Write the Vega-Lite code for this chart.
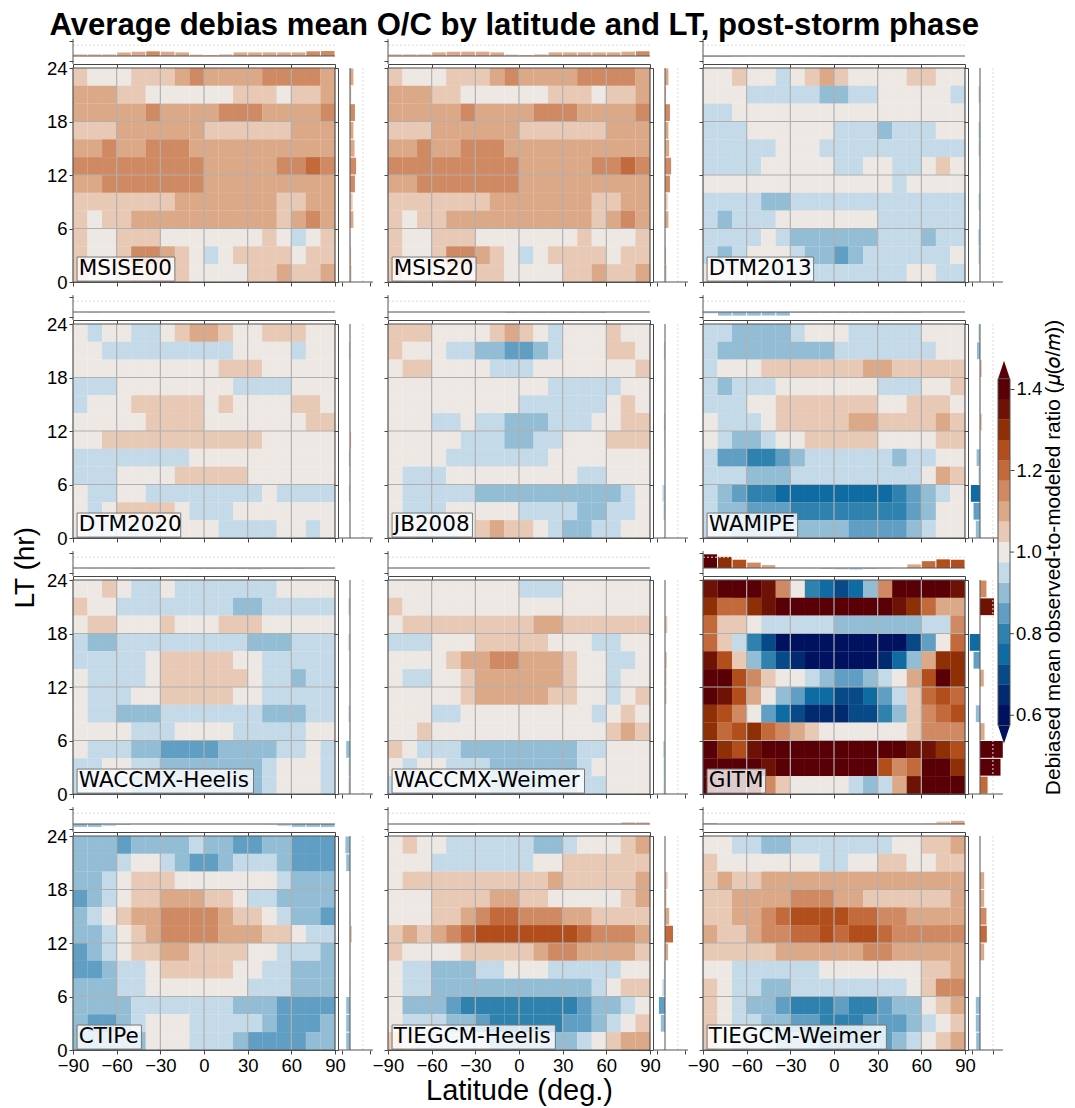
{"$schema":"https://vega.github.io/schema/vega-lite/v6.json","padding":{"left":12,"top":9,"right":0,"bottom":0},"title":{"text":"Average debias mean O/C by latitude and LT, post-storm phase","font":"Liberation Sans","fontWeight":"bold","fontSize":31.1,"anchor":"start","offset":-11,"dx":37},
"config":{"legend":{"disable":true},"view":{"stroke":null},"axis":{"grid":false,"labelOverlap":false,"labelFlush":false,"domainColor":"#444","tickColor":"#444","tickSize":4,"labelFont":"Liberation Sans","labelFontSize":18.5,"labelColor":"#000","titleFont":"Liberation Sans","titleFontSize":29,"titleFontWeight":"normal","titleColor":"#000"},"text":{"align":"left","font":"DejaVu Sans","fontSize":21.5,"color":"#000"},"rule":{"color":"#555"}},
"datasets":{"one":[{"o":1}],"gx":[{"x":-60},{"x":-30},{"x":0},{"x":30},{"x":60}],"gy":[{"y":6},{"y":12},{"y":18}],"cbt":[{"v":0.6},{"v":0.8},{"v":1}],"cb":[{"v":0.6},{"v":0.65},{"v":0.7},{"v":0.75},{"v":0.8},{"v":0.85},{"v":0.9},{"v":0.95},{"v":1},{"v":1.05},{"v":1.1},{"v":1.15},{"v":1.2},{"v":1.25},{"v":1.3},{"v":1.35},{"v":1.4}],
"t0":[{"x":-85,"v":1.05},{"x":-75,"v":1.05},{"x":-65,"v":1.05},{"x":-55,"v":1.1},{"x":-45,"v":1.12},{"x":-35,"v":1.13},{"x":-25,"v":1.12},{"x":-15,"v":1.1},{"x":-5,"v":1.04},{"x":5,"v":1.03},{"x":15,"v":1.05},{"x":25,"v":1.1},{"x":35,"v":1.1},{"x":45,"v":1.1},{"x":55,"v":1.1},{"x":65,"v":1.1},{"x":75,"v":1.13},{"x":85,"v":1.14}],
"t1":[{"x":-85,"v":1.05},{"x":-75,"v":1.05},{"x":-65,"v":1.05},{"x":-55,"v":1.1},{"x":-45,"v":1.12},{"x":-35,"v":1.12},{"x":-25,"v":1.12},{"x":-15,"v":1.1},{"x":-5,"v":1.04},{"x":5,"v":1.03},{"x":15,"v":1.05},{"x":25,"v":1.1},{"x":35,"v":1.1},{"x":45,"v":1.1},{"x":55,"v":1.1},{"x":65,"v":1.1},{"x":75,"v":1.12},{"x":85,"v":1.13}],
"t2":[{"x":-85,"v":0.97},{"x":-75,"v":0.97},{"x":-65,"v":0.98},{"x":-55,"v":1},{"x":-45,"v":0.99},{"x":-35,"v":0.99},{"x":-25,"v":0.98},{"x":-15,"v":0.98},{"x":-5,"v":0.97},{"x":5,"v":0.97},{"x":15,"v":0.97},{"x":25,"v":0.97},{"x":35,"v":0.97},{"x":45,"v":0.97},{"x":55,"v":0.97},{"x":65,"v":0.98},{"x":75,"v":1},{"x":85,"v":1}],
"t3":[{"x":-85,"v":1},{"x":-75,"v":0.98},{"x":-65,"v":1},{"x":-55,"v":1},{"x":-45,"v":1},{"x":-35,"v":1},{"x":-25,"v":1},{"x":-15,"v":1},{"x":-5,"v":1},{"x":5,"v":1},{"x":15,"v":1},{"x":25,"v":1},{"x":35,"v":1},{"x":45,"v":1},{"x":55,"v":1},{"x":65,"v":1},{"x":75,"v":1},{"x":85,"v":1}],
"t4":[{"x":-85,"v":1},{"x":-75,"v":1},{"x":-65,"v":1},{"x":-55,"v":1},{"x":-45,"v":1},{"x":-35,"v":1},{"x":-25,"v":1},{"x":-15,"v":0.99},{"x":-5,"v":0.97},{"x":5,"v":0.97},{"x":15,"v":0.97},{"x":25,"v":0.97},{"x":35,"v":0.97},{"x":45,"v":0.97},{"x":55,"v":0.97},{"x":65,"v":1},{"x":75,"v":1},{"x":85,"v":1}],
"t5":[{"x":-85,"v":0.96},{"x":-75,"v":0.9},{"x":-65,"v":0.9},{"x":-55,"v":0.9},{"x":-45,"v":0.9},{"x":-35,"v":0.9},{"x":-25,"v":0.97},{"x":-15,"v":0.97},{"x":-5,"v":0.97},{"x":5,"v":0.97},{"x":15,"v":0.97},{"x":25,"v":0.97},{"x":35,"v":0.97},{"x":45,"v":0.97},{"x":55,"v":0.97},{"x":65,"v":1},{"x":75,"v":1},{"x":85,"v":1}],
"t6":[{"x":-85,"v":1},{"x":-75,"v":0.98},{"x":-65,"v":0.98},{"x":-55,"v":0.98},{"x":-45,"v":0.97},{"x":-35,"v":0.97},{"x":-25,"v":0.98},{"x":-15,"v":0.98},{"x":-5,"v":0.97},{"x":5,"v":0.97},{"x":15,"v":0.97},{"x":25,"v":0.97},{"x":35,"v":0.96},{"x":45,"v":0.97},{"x":55,"v":0.97},{"x":65,"v":0.97},{"x":75,"v":0.98},{"x":85,"v":0.98}],
"t7":[{"x":-85,"v":1},{"x":-75,"v":1},{"x":-65,"v":1},{"x":-55,"v":1},{"x":-45,"v":1},{"x":-35,"v":1},{"x":-25,"v":1},{"x":-15,"v":1},{"x":-5,"v":1},{"x":5,"v":1},{"x":15,"v":1},{"x":25,"v":1},{"x":35,"v":1},{"x":45,"v":1},{"x":55,"v":1},{"x":65,"v":1},{"x":75,"v":1},{"x":85,"v":1}],
"t8":[{"x":-85,"v":1.38},{"x":-75,"v":1.31},{"x":-65,"v":1.23},{"x":-55,"v":1.15},{"x":-45,"v":1.08},{"x":-35,"v":1.01},{"x":-25,"v":1},{"x":-15,"v":0.99},{"x":-5,"v":0.97},{"x":5,"v":0.96},{"x":15,"v":0.95},{"x":25,"v":0.97},{"x":35,"v":0.98},{"x":45,"v":1},{"x":55,"v":1.1},{"x":65,"v":1.19},{"x":75,"v":1.24},{"x":85,"v":1.23}],
"t9":[{"x":-85,"v":0.92},{"x":-75,"v":0.92},{"x":-65,"v":0.94},{"x":-55,"v":0.97},{"x":-45,"v":1},{"x":-35,"v":1},{"x":-25,"v":1.01},{"x":-15,"v":1.01},{"x":-5,"v":1.01},{"x":5,"v":1},{"x":15,"v":1},{"x":25,"v":1},{"x":35,"v":0.99},{"x":45,"v":0.98},{"x":55,"v":0.94},{"x":65,"v":0.92},{"x":75,"v":0.92},{"x":85,"v":0.92}],
"t10":[{"x":-85,"v":1},{"x":-75,"v":1},{"x":-65,"v":1},{"x":-55,"v":0.99},{"x":-45,"v":0.98},{"x":-35,"v":0.98},{"x":-25,"v":1},{"x":-15,"v":1},{"x":-5,"v":1},{"x":5,"v":1},{"x":15,"v":1},{"x":25,"v":1},{"x":35,"v":1},{"x":45,"v":1},{"x":55,"v":1},{"x":65,"v":1.01},{"x":75,"v":1.05},{"x":85,"v":1.05}],
"t11":[{"x":-85,"v":1.03},{"x":-75,"v":1},{"x":-65,"v":1},{"x":-55,"v":1},{"x":-45,"v":1},{"x":-35,"v":1},{"x":-25,"v":1},{"x":-15,"v":1},{"x":-5,"v":1},{"x":5,"v":1},{"x":15,"v":1},{"x":25,"v":1},{"x":35,"v":1},{"x":45,"v":1},{"x":55,"v":1},{"x":65,"v":1.02},{"x":75,"v":1.07},{"x":85,"v":1.09}],
"r0":[{"y":23,"v":1.09},{"y":21,"v":1.03},{"y":19,"v":1.13},{"y":17,"v":1.09},{"y":15,"v":1.12},{"y":13,"v":1.16},{"y":11,"v":1.13},{"y":9,"v":1.07},{"y":7,"v":1.09},{"y":5,"v":1.02},{"y":3,"v":1.03},{"y":1,"v":1.04}],
"r1":[{"y":23,"v":1.09},{"y":21,"v":1.03},{"y":19,"v":1.13},{"y":17,"v":1.09},{"y":15,"v":1.11},{"y":13,"v":1.16},{"y":11,"v":1.13},{"y":9,"v":1.07},{"y":7,"v":1.09},{"y":5,"v":1.02},{"y":3,"v":1.03},{"y":1,"v":1.04}],
"r2":[{"y":23,"v":1},{"y":21,"v":0.96},{"y":19,"v":1},{"y":17,"v":0.96},{"y":15,"v":0.96},{"y":13,"v":0.99},{"y":11,"v":1},{"y":9,"v":0.96},{"y":7,"v":0.98},{"y":5,"v":0.95},{"y":3,"v":0.96},{"y":1,"v":0.99}],
"r3":[{"y":23,"v":1},{"y":21,"v":0.97},{"y":19,"v":1},{"y":17,"v":1},{"y":15,"v":1},{"y":13,"v":1},{"y":11,"v":1.03},{"y":9,"v":0.97},{"y":7,"v":1},{"y":5,"v":0.97},{"y":3,"v":1},{"y":1,"v":0.98}],
"r4":[{"y":23,"v":1},{"y":21,"v":0.97},{"y":19,"v":1},{"y":17,"v":0.99},{"y":15,"v":0.99},{"y":13,"v":0.97},{"y":11,"v":0.98},{"y":9,"v":0.99},{"y":7,"v":0.99},{"y":5,"v":0.93},{"y":3,"v":0.96},{"y":1,"v":1}],
"r5":[{"y":23,"v":0.955},{"y":21,"v":0.92},{"y":19,"v":1.05},{"y":17,"v":1},{"y":15,"v":0.99},{"y":13,"v":1.05},{"y":11,"v":1},{"y":9,"v":0.91},{"y":7,"v":0.955},{"y":5,"v":0.76},{"y":3,"v":0.83},{"y":1,"v":0.89}],
"r6":[{"y":23,"v":1},{"y":21,"v":0.96},{"y":19,"v":1},{"y":17,"v":0.96},{"y":15,"v":0.99},{"y":13,"v":0.99},{"y":11,"v":1},{"y":9,"v":0.96},{"y":7,"v":0.99},{"y":5,"v":0.9},{"y":3,"v":0.96},{"y":1,"v":0.96}],
"r7":[{"y":23,"v":1},{"y":21,"v":1},{"y":19,"v":1.06},{"y":17,"v":1},{"y":15,"v":1.05},{"y":13,"v":1.04},{"y":11,"v":1.04},{"y":9,"v":1},{"y":7,"v":1},{"y":5,"v":0.95},{"y":3,"v":0.96},{"y":1,"v":0.96}],
"r8":[{"y":23,"v":1.17},{"y":21,"v":1.37},{"y":19,"v":0.99},{"y":17,"v":0.73},{"y":15,"v":0.83},{"y":13,"v":1.1},{"y":11,"v":1},{"y":9,"v":0.89},{"y":7,"v":1.12},{"y":5,"v":1.6},{"y":3,"v":1.54},{"y":1,"v":1.2}],
"r9":[{"y":23,"v":0.88},{"y":21,"v":0.9},{"y":19,"v":1},{"y":17,"v":1},{"y":15,"v":0.99},{"y":13,"v":1.05},{"y":11,"v":0.99},{"y":9,"v":1},{"y":7,"v":0.98},{"y":5,"v":0.9},{"y":3,"v":0.9},{"y":1,"v":0.9}],
"r10":[{"y":23,"v":1},{"y":21,"v":1},{"y":19,"v":1.07},{"y":17,"v":1.04},{"y":15,"v":1.11},{"y":13,"v":1.21},{"y":11,"v":1.08},{"y":9,"v":0.97},{"y":7,"v":0.93},{"y":5,"v":0.84},{"y":3,"v":0.89},{"y":1,"v":1}],
"r11":[{"y":23,"v":1},{"y":21,"v":1},{"y":19,"v":1.11},{"y":17,"v":1.11},{"y":15,"v":1.17},{"y":13,"v":1.18},{"y":11,"v":1.11},{"y":9,"v":1},{"y":7,"v":1},{"y":5,"v":0.89},{"y":3,"v":0.89},{"y":1,"v":0.9}],
"c0":[{"x":-85,"y":23,"v":1.05},{"x":-75,"y":23,"v":1},{"x":-65,"y":23,"v":1},{"x":-55,"y":23,"v":1},{"x":-45,"y":23,"v":1.05},{"x":-35,"y":23,"v":1.05},{"x":-25,"y":23,"v":1.05},{"x":-15,"y":23,"v":1.1},{"x":-5,"y":23,"v":1.15},{"x":5,"y":23,"v":1.1},{"x":15,"y":23,"v":1.1},{"x":25,"y":23,"v":1.1},{"x":35,"y":23,"v":1.1},{"x":45,"y":23,"v":1.15},{"x":55,"y":23,"v":1.15},{"x":65,"y":23,"v":1.15},{"x":75,"y":23,"v":1.15},{"x":85,"y":23,"v":1.1},
{"x":-85,"y":21,"v":1.1},{"x":-75,"y":21,"v":1.1},{"x":-65,"y":21,"v":1.1},{"x":-55,"y":21,"v":1.05},{"x":-45,"y":21,"v":1.05},{"x":-35,"y":21,"v":1},{"x":-25,"y":21,"v":1},{"x":-15,"y":21,"v":1},{"x":-5,"y":21,"v":1},{"x":5,"y":21,"v":1},{"x":15,"y":21,"v":1},{"x":25,"y":21,"v":1.05},{"x":35,"y":21,"v":1.05},{"x":45,"y":21,"v":1.05},{"x":55,"y":21,"v":1},{"x":65,"y":21,"v":1.05},{"x":75,"y":21,"v":1.05},{"x":85,"y":21,"v":1.1},
{"x":-85,"y":19,"v":1.1},{"x":-75,"y":19,"v":1.1},{"x":-65,"y":19,"v":1.1},{"x":-55,"y":19,"v":1.1},{"x":-45,"y":19,"v":1.1},{"x":-35,"y":19,"v":1.15},{"x":-25,"y":19,"v":1.1},{"x":-15,"y":19,"v":1.1},{"x":-5,"y":19,"v":1.1},{"x":5,"y":19,"v":1.1},{"x":15,"y":19,"v":1.15},{"x":25,"y":19,"v":1.15},{"x":35,"y":19,"v":1.15},{"x":45,"y":19,"v":1.1},{"x":55,"y":19,"v":1.1},{"x":65,"y":19,"v":1.1},{"x":75,"y":19,"v":1.1},{"x":85,"y":19,"v":1.15},
{"x":-85,"y":17,"v":1.05},{"x":-75,"y":17,"v":1.05},{"x":-65,"y":17,"v":1.05},{"x":-55,"y":17,"v":1.1},{"x":-45,"y":17,"v":1.1},{"x":-35,"y":17,"v":1.1},{"x":-25,"y":17,"v":1.1},{"x":-15,"y":17,"v":1.1},{"x":-5,"y":17,"v":1.1},{"x":5,"y":17,"v":1.05},{"x":15,"y":17,"v":1.05},{"x":25,"y":17,"v":1.05},{"x":35,"y":17,"v":1.05},{"x":45,"y":17,"v":1.05},{"x":55,"y":17,"v":1.05},{"x":65,"y":17,"v":1.1},{"x":75,"y":17,"v":1.1},{"x":85,"y":17,"v":1.1},
{"x":-85,"y":15,"v":1.1},{"x":-75,"y":15,"v":1.1},{"x":-65,"y":15,"v":1.15},{"x":-55,"y":15,"v":1.1},{"x":-45,"y":15,"v":1.1},{"x":-35,"y":15,"v":1.15},{"x":-25,"y":15,"v":1.15},{"x":-15,"y":15,"v":1.15},{"x":-5,"y":15,"v":1.1},{"x":5,"y":15,"v":1.1},{"x":15,"y":15,"v":1.1},{"x":25,"y":15,"v":1.1},{"x":35,"y":15,"v":1.1},{"x":45,"y":15,"v":1.1},{"x":55,"y":15,"v":1.1},{"x":65,"y":15,"v":1.1},{"x":75,"y":15,"v":1.1},{"x":85,"y":15,"v":1.1},
{"x":-85,"y":13,"v":1.15},{"x":-75,"y":13,"v":1.15},{"x":-65,"y":13,"v":1.15},{"x":-55,"y":13,"v":1.15},{"x":-45,"y":13,"v":1.15},{"x":-35,"y":13,"v":1.15},{"x":-25,"y":13,"v":1.15},{"x":-15,"y":13,"v":1.15},{"x":-5,"y":13,"v":1.15},{"x":5,"y":13,"v":1.1},{"x":15,"y":13,"v":1.1},{"x":25,"y":13,"v":1.1},{"x":35,"y":13,"v":1.1},{"x":45,"y":13,"v":1.1},{"x":55,"y":13,"v":1.15},{"x":65,"y":13,"v":1.15},{"x":75,"y":13,"v":1.2},{"x":85,"y":13,"v":1.15},
{"x":-85,"y":11,"v":1.1},{"x":-75,"y":11,"v":1.1},{"x":-65,"y":11,"v":1.15},{"x":-55,"y":11,"v":1.15},{"x":-45,"y":11,"v":1.15},{"x":-35,"y":11,"v":1.15},{"x":-25,"y":11,"v":1.15},{"x":-15,"y":11,"v":1.15},{"x":-5,"y":11,"v":1.15},{"x":5,"y":11,"v":1.1},{"x":15,"y":11,"v":1.1},{"x":25,"y":11,"v":1.1},{"x":35,"y":11,"v":1.1},{"x":45,"y":11,"v":1.1},{"x":55,"y":11,"v":1.1},{"x":65,"y":11,"v":1.1},{"x":75,"y":11,"v":1.1},{"x":85,"y":11,"v":1.1},
{"x":-85,"y":9,"v":1.05},{"x":-75,"y":9,"v":1.05},{"x":-65,"y":9,"v":1.05},{"x":-55,"y":9,"v":1.05},{"x":-45,"y":9,"v":1.05},{"x":-35,"y":9,"v":1.05},{"x":-25,"y":9,"v":1.05},{"x":-15,"y":9,"v":1.1},{"x":-5,"y":9,"v":1.1},{"x":5,"y":9,"v":1.1},{"x":15,"y":9,"v":1.1},{"x":25,"y":9,"v":1.1},{"x":35,"y":9,"v":1.1},{"x":45,"y":9,"v":1.1},{"x":55,"y":9,"v":1.05},{"x":65,"y":9,"v":1.05},{"x":75,"y":9,"v":1.1},{"x":85,"y":9,"v":1.1},
{"x":-85,"y":7,"v":1.05},{"x":-75,"y":7,"v":1},{"x":-65,"y":7,"v":1.05},{"x":-55,"y":7,"v":1.05},{"x":-45,"y":7,"v":1.1},{"x":-35,"y":7,"v":1.1},{"x":-25,"y":7,"v":1.1},{"x":-15,"y":7,"v":1.1},{"x":-5,"y":7,"v":1.1},{"x":5,"y":7,"v":1.1},{"x":15,"y":7,"v":1.1},{"x":25,"y":7,"v":1.1},{"x":35,"y":7,"v":1.1},{"x":45,"y":7,"v":1.1},{"x":55,"y":7,"v":1.05},{"x":65,"y":7,"v":1.1},{"x":75,"y":7,"v":1.15},{"x":85,"y":7,"v":1.1},
{"x":-85,"y":5,"v":1.05},{"x":-75,"y":5,"v":1},{"x":-65,"y":5,"v":1},{"x":-55,"y":5,"v":1.05},{"x":-45,"y":5,"v":1.05},{"x":-35,"y":5,"v":1.05},{"x":-25,"y":5,"v":1},{"x":-15,"y":5,"v":1},{"x":-5,"y":5,"v":1},{"x":5,"y":5,"v":1},{"x":15,"y":5,"v":1},{"x":25,"y":5,"v":1},{"x":35,"y":5,"v":1},{"x":45,"y":5,"v":1.05},{"x":55,"y":5,"v":1},{"x":65,"y":5,"v":0.95},{"x":75,"y":5,"v":1},{"x":85,"y":5,"v":1.05},
{"x":-85,"y":3,"v":1.05},{"x":-75,"y":3,"v":1},{"x":-65,"y":3,"v":1},{"x":-55,"y":3,"v":1.05},{"x":-45,"y":3,"v":1.15},{"x":-35,"y":3,"v":1.15},{"x":-25,"y":3,"v":1.1},{"x":-15,"y":3,"v":1.05},{"x":-5,"y":3,"v":1},{"x":5,"y":3,"v":0.95},{"x":15,"y":3,"v":1},{"x":25,"y":3,"v":1.05},{"x":35,"y":3,"v":1.05},{"x":45,"y":3,"v":1.05},{"x":55,"y":3,"v":1.05},{"x":65,"y":3,"v":1},{"x":75,"y":3,"v":1.05},{"x":85,"y":3,"v":1.05},
{"x":-85,"y":1,"v":1.05},{"x":-75,"y":1,"v":1},{"x":-65,"y":1,"v":1},{"x":-55,"y":1,"v":1},{"x":-45,"y":1,"v":1.05},{"x":-35,"y":1,"v":1.05},{"x":-25,"y":1,"v":1.05},{"x":-15,"y":1,"v":1.05},{"x":-5,"y":1,"v":1},{"x":5,"y":1,"v":1},{"x":15,"y":1,"v":1},{"x":25,"y":1,"v":1},{"x":35,"y":1,"v":1.05},{"x":45,"y":1,"v":1.05},{"x":55,"y":1,"v":1.1},{"x":65,"y":1,"v":1.05},{"x":75,"y":1,"v":1.05},{"x":85,"y":1,"v":1.1}],
"c1":[{"x":-85,"y":23,"v":1.05},{"x":-75,"y":23,"v":1},{"x":-65,"y":23,"v":1},{"x":-55,"y":23,"v":1},{"x":-45,"y":23,"v":1.05},{"x":-35,"y":23,"v":1.05},{"x":-25,"y":23,"v":1.05},{"x":-15,"y":23,"v":1.1},{"x":-5,"y":23,"v":1.15},{"x":5,"y":23,"v":1.1},{"x":15,"y":23,"v":1.1},{"x":25,"y":23,"v":1.1},{"x":35,"y":23,"v":1.1},{"x":45,"y":23,"v":1.15},{"x":55,"y":23,"v":1.15},{"x":65,"y":23,"v":1.15},{"x":75,"y":23,"v":1.15},{"x":85,"y":23,"v":1.1},
{"x":-85,"y":21,"v":1.1},{"x":-75,"y":21,"v":1.1},{"x":-65,"y":21,"v":1.1},{"x":-55,"y":21,"v":1.05},{"x":-45,"y":21,"v":1.05},{"x":-35,"y":21,"v":1},{"x":-25,"y":21,"v":1},{"x":-15,"y":21,"v":1},{"x":-5,"y":21,"v":1},{"x":5,"y":21,"v":1},{"x":15,"y":21,"v":1},{"x":25,"y":21,"v":1.05},{"x":35,"y":21,"v":1.05},{"x":45,"y":21,"v":1.05},{"x":55,"y":21,"v":1},{"x":65,"y":21,"v":1.05},{"x":75,"y":21,"v":1.05},{"x":85,"y":21,"v":1.1},
{"x":-85,"y":19,"v":1.1},{"x":-75,"y":19,"v":1.1},{"x":-65,"y":19,"v":1.1},{"x":-55,"y":19,"v":1.1},{"x":-45,"y":19,"v":1.1},{"x":-35,"y":19,"v":1.15},{"x":-25,"y":19,"v":1.1},{"x":-15,"y":19,"v":1.1},{"x":-5,"y":19,"v":1.1},{"x":5,"y":19,"v":1.1},{"x":15,"y":19,"v":1.15},{"x":25,"y":19,"v":1.15},{"x":35,"y":19,"v":1.15},{"x":45,"y":19,"v":1.1},{"x":55,"y":19,"v":1.1},{"x":65,"y":19,"v":1.1},{"x":75,"y":19,"v":1.1},{"x":85,"y":19,"v":1.15},
{"x":-85,"y":17,"v":1.05},{"x":-75,"y":17,"v":1.05},{"x":-65,"y":17,"v":1.05},{"x":-55,"y":17,"v":1.1},{"x":-45,"y":17,"v":1.1},{"x":-35,"y":17,"v":1.1},{"x":-25,"y":17,"v":1.1},{"x":-15,"y":17,"v":1.1},{"x":-5,"y":17,"v":1.1},{"x":5,"y":17,"v":1.05},{"x":15,"y":17,"v":1.05},{"x":25,"y":17,"v":1.05},{"x":35,"y":17,"v":1.05},{"x":45,"y":17,"v":1.05},{"x":55,"y":17,"v":1.05},{"x":65,"y":17,"v":1.1},{"x":75,"y":17,"v":1.1},{"x":85,"y":17,"v":1.1},
{"x":-85,"y":15,"v":1.1},{"x":-75,"y":15,"v":1.1},{"x":-65,"y":15,"v":1.15},{"x":-55,"y":15,"v":1.1},{"x":-45,"y":15,"v":1.1},{"x":-35,"y":15,"v":1.15},{"x":-25,"y":15,"v":1.15},{"x":-15,"y":15,"v":1.15},{"x":-5,"y":15,"v":1.1},{"x":5,"y":15,"v":1.1},{"x":15,"y":15,"v":1.1},{"x":25,"y":15,"v":1.1},{"x":35,"y":15,"v":1.1},{"x":45,"y":15,"v":1.1},{"x":55,"y":15,"v":1.1},{"x":65,"y":15,"v":1.1},{"x":75,"y":15,"v":1.1},{"x":85,"y":15,"v":1.1},
{"x":-85,"y":13,"v":1.15},{"x":-75,"y":13,"v":1.15},{"x":-65,"y":13,"v":1.15},{"x":-55,"y":13,"v":1.15},{"x":-45,"y":13,"v":1.15},{"x":-35,"y":13,"v":1.15},{"x":-25,"y":13,"v":1.15},{"x":-15,"y":13,"v":1.15},{"x":-5,"y":13,"v":1.15},{"x":5,"y":13,"v":1.1},{"x":15,"y":13,"v":1.1},{"x":25,"y":13,"v":1.1},{"x":35,"y":13,"v":1.1},{"x":45,"y":13,"v":1.1},{"x":55,"y":13,"v":1.15},{"x":65,"y":13,"v":1.15},{"x":75,"y":13,"v":1.2},{"x":85,"y":13,"v":1.15},
{"x":-85,"y":11,"v":1.1},{"x":-75,"y":11,"v":1.1},{"x":-65,"y":11,"v":1.15},{"x":-55,"y":11,"v":1.15},{"x":-45,"y":11,"v":1.15},{"x":-35,"y":11,"v":1.15},{"x":-25,"y":11,"v":1.15},{"x":-15,"y":11,"v":1.15},{"x":-5,"y":11,"v":1.15},{"x":5,"y":11,"v":1.1},{"x":15,"y":11,"v":1.1},{"x":25,"y":11,"v":1.1},{"x":35,"y":11,"v":1.1},{"x":45,"y":11,"v":1.1},{"x":55,"y":11,"v":1.1},{"x":65,"y":11,"v":1.1},{"x":75,"y":11,"v":1.1},{"x":85,"y":11,"v":1.1},
{"x":-85,"y":9,"v":1.05},{"x":-75,"y":9,"v":1.05},{"x":-65,"y":9,"v":1.05},{"x":-55,"y":9,"v":1.05},{"x":-45,"y":9,"v":1.05},{"x":-35,"y":9,"v":1.05},{"x":-25,"y":9,"v":1.05},{"x":-15,"y":9,"v":1.1},{"x":-5,"y":9,"v":1.1},{"x":5,"y":9,"v":1.1},{"x":15,"y":9,"v":1.1},{"x":25,"y":9,"v":1.1},{"x":35,"y":9,"v":1.1},{"x":45,"y":9,"v":1.1},{"x":55,"y":9,"v":1.05},{"x":65,"y":9,"v":1.05},{"x":75,"y":9,"v":1.1},{"x":85,"y":9,"v":1.1},
{"x":-85,"y":7,"v":1.05},{"x":-75,"y":7,"v":1},{"x":-65,"y":7,"v":1.05},{"x":-55,"y":7,"v":1.05},{"x":-45,"y":7,"v":1.1},{"x":-35,"y":7,"v":1.1},{"x":-25,"y":7,"v":1.1},{"x":-15,"y":7,"v":1.1},{"x":-5,"y":7,"v":1.1},{"x":5,"y":7,"v":1.1},{"x":15,"y":7,"v":1.1},{"x":25,"y":7,"v":1.1},{"x":35,"y":7,"v":1.1},{"x":45,"y":7,"v":1.1},{"x":55,"y":7,"v":1.05},{"x":65,"y":7,"v":1.1},{"x":75,"y":7,"v":1.15},{"x":85,"y":7,"v":1.1},
{"x":-85,"y":5,"v":1.05},{"x":-75,"y":5,"v":1},{"x":-65,"y":5,"v":1},{"x":-55,"y":5,"v":1.05},{"x":-45,"y":5,"v":1.05},{"x":-35,"y":5,"v":1.05},{"x":-25,"y":5,"v":1},{"x":-15,"y":5,"v":1},{"x":-5,"y":5,"v":1},{"x":5,"y":5,"v":1},{"x":15,"y":5,"v":1},{"x":25,"y":5,"v":1},{"x":35,"y":5,"v":1},{"x":45,"y":5,"v":1.05},{"x":55,"y":5,"v":1},{"x":65,"y":5,"v":1},{"x":75,"y":5,"v":1},{"x":85,"y":5,"v":1.05},
{"x":-85,"y":3,"v":1.05},{"x":-75,"y":3,"v":1},{"x":-65,"y":3,"v":1},{"x":-55,"y":3,"v":1.05},{"x":-45,"y":3,"v":1.15},{"x":-35,"y":3,"v":1.15},{"x":-25,"y":3,"v":1.1},{"x":-15,"y":3,"v":1.05},{"x":-5,"y":3,"v":1},{"x":5,"y":3,"v":0.95},{"x":15,"y":3,"v":1},{"x":25,"y":3,"v":1.05},{"x":35,"y":3,"v":1.05},{"x":45,"y":3,"v":1.05},{"x":55,"y":3,"v":1.05},{"x":65,"y":3,"v":1},{"x":75,"y":3,"v":1.05},{"x":85,"y":3,"v":1.05},
{"x":-85,"y":1,"v":1.05},{"x":-75,"y":1,"v":1},{"x":-65,"y":1,"v":1},{"x":-55,"y":1,"v":1},{"x":-45,"y":1,"v":1.05},{"x":-35,"y":1,"v":1.05},{"x":-25,"y":1,"v":1.05},{"x":-15,"y":1,"v":1.05},{"x":-5,"y":1,"v":1},{"x":5,"y":1,"v":1},{"x":15,"y":1,"v":1},{"x":25,"y":1,"v":1},{"x":35,"y":1,"v":1.05},{"x":45,"y":1,"v":1.05},{"x":55,"y":1,"v":1.1},{"x":65,"y":1,"v":1.05},{"x":75,"y":1,"v":1.05},{"x":85,"y":1,"v":1.1}],
"c2":[{"x":-85,"y":23,"v":1},{"x":-75,"y":23,"v":1},{"x":-65,"y":23,"v":1.05},{"x":-55,"y":23,"v":1},{"x":-45,"y":23,"v":1},{"x":-35,"y":23,"v":0.95},{"x":-25,"y":23,"v":1},{"x":-15,"y":23,"v":1.05},{"x":-5,"y":23,"v":1.1},{"x":5,"y":23,"v":1.05},{"x":15,"y":23,"v":1},{"x":25,"y":23,"v":1},{"x":35,"y":23,"v":1},{"x":45,"y":23,"v":1},{"x":55,"y":23,"v":1.05},{"x":65,"y":23,"v":1.05},{"x":75,"y":23,"v":1},{"x":85,"y":23,"v":1},
{"x":-85,"y":21,"v":1},{"x":-75,"y":21,"v":1},{"x":-65,"y":21,"v":1},{"x":-55,"y":21,"v":0.95},{"x":-45,"y":21,"v":0.95},{"x":-35,"y":21,"v":0.95},{"x":-25,"y":21,"v":0.95},{"x":-15,"y":21,"v":0.95},{"x":-5,"y":21,"v":0.9},{"x":5,"y":21,"v":0.9},{"x":15,"y":21,"v":0.95},{"x":25,"y":21,"v":0.95},{"x":35,"y":21,"v":1},{"x":45,"y":21,"v":1},{"x":55,"y":21,"v":1},{"x":65,"y":21,"v":1},{"x":75,"y":21,"v":1},{"x":85,"y":21,"v":0.95},
{"x":-85,"y":19,"v":0.95},{"x":-75,"y":19,"v":0.95},{"x":-65,"y":19,"v":1},{"x":-55,"y":19,"v":1},{"x":-45,"y":19,"v":1},{"x":-35,"y":19,"v":1},{"x":-25,"y":19,"v":1},{"x":-15,"y":19,"v":1},{"x":-5,"y":19,"v":1},{"x":5,"y":19,"v":1},{"x":15,"y":19,"v":1},{"x":25,"y":19,"v":1},{"x":35,"y":19,"v":1},{"x":45,"y":19,"v":1},{"x":55,"y":19,"v":1},{"x":65,"y":19,"v":1},{"x":75,"y":19,"v":1},{"x":85,"y":19,"v":1},
{"x":-85,"y":17,"v":0.95},{"x":-75,"y":17,"v":0.95},{"x":-65,"y":17,"v":0.95},{"x":-55,"y":17,"v":1},{"x":-45,"y":17,"v":1},{"x":-35,"y":17,"v":1},{"x":-25,"y":17,"v":1},{"x":-15,"y":17,"v":1},{"x":-5,"y":17,"v":1},{"x":5,"y":17,"v":0.95},{"x":15,"y":17,"v":0.95},{"x":25,"y":17,"v":0.95},{"x":35,"y":17,"v":0.9},{"x":45,"y":17,"v":0.95},{"x":55,"y":17,"v":0.95},{"x":65,"y":17,"v":0.95},{"x":75,"y":17,"v":1},{"x":85,"y":17,"v":1},
{"x":-85,"y":15,"v":0.95},{"x":-75,"y":15,"v":0.95},{"x":-65,"y":15,"v":0.95},{"x":-55,"y":15,"v":0.95},{"x":-45,"y":15,"v":0.95},{"x":-35,"y":15,"v":1},{"x":-25,"y":15,"v":1},{"x":-15,"y":15,"v":1},{"x":-5,"y":15,"v":0.95},{"x":5,"y":15,"v":0.95},{"x":15,"y":15,"v":0.95},{"x":25,"y":15,"v":0.95},{"x":35,"y":15,"v":0.95},{"x":45,"y":15,"v":0.95},{"x":55,"y":15,"v":0.95},{"x":65,"y":15,"v":0.95},{"x":75,"y":15,"v":0.95},{"x":85,"y":15,"v":0.95},
{"x":-85,"y":13,"v":0.95},{"x":-75,"y":13,"v":0.95},{"x":-65,"y":13,"v":0.95},{"x":-55,"y":13,"v":0.95},{"x":-45,"y":13,"v":1},{"x":-35,"y":13,"v":1},{"x":-25,"y":13,"v":1},{"x":-15,"y":13,"v":1},{"x":-5,"y":13,"v":1},{"x":5,"y":13,"v":0.95},{"x":15,"y":13,"v":0.95},{"x":25,"y":13,"v":1},{"x":35,"y":13,"v":1},{"x":45,"y":13,"v":0.95},{"x":55,"y":13,"v":0.95},{"x":65,"y":13,"v":1},{"x":75,"y":13,"v":1.05},{"x":85,"y":13,"v":1},
{"x":-85,"y":11,"v":1},{"x":-75,"y":11,"v":1},{"x":-65,"y":11,"v":1},{"x":-55,"y":11,"v":1},{"x":-45,"y":11,"v":1},{"x":-35,"y":11,"v":1},{"x":-25,"y":11,"v":1},{"x":-15,"y":11,"v":1},{"x":-5,"y":11,"v":1},{"x":5,"y":11,"v":1},{"x":15,"y":11,"v":1},{"x":25,"y":11,"v":1},{"x":35,"y":11,"v":1},{"x":45,"y":11,"v":0.95},{"x":55,"y":11,"v":1},{"x":65,"y":11,"v":1},{"x":75,"y":11,"v":1},{"x":85,"y":11,"v":1},
{"x":-85,"y":9,"v":0.95},{"x":-75,"y":9,"v":0.95},{"x":-65,"y":9,"v":0.95},{"x":-55,"y":9,"v":0.95},{"x":-45,"y":9,"v":0.9},{"x":-35,"y":9,"v":0.9},{"x":-25,"y":9,"v":0.95},{"x":-15,"y":9,"v":0.95},{"x":-5,"y":9,"v":0.95},{"x":5,"y":9,"v":0.95},{"x":15,"y":9,"v":0.95},{"x":25,"y":9,"v":0.95},{"x":35,"y":9,"v":0.95},{"x":45,"y":9,"v":0.95},{"x":55,"y":9,"v":0.95},{"x":65,"y":9,"v":0.95},{"x":75,"y":9,"v":0.95},{"x":85,"y":9,"v":0.95},
{"x":-85,"y":7,"v":0.95},{"x":-75,"y":7,"v":0.9},{"x":-65,"y":7,"v":0.95},{"x":-55,"y":7,"v":0.95},{"x":-45,"y":7,"v":0.95},{"x":-35,"y":7,"v":1},{"x":-25,"y":7,"v":1},{"x":-15,"y":7,"v":1},{"x":-5,"y":7,"v":1},{"x":5,"y":7,"v":1},{"x":15,"y":7,"v":1},{"x":25,"y":7,"v":1},{"x":35,"y":7,"v":0.95},{"x":45,"y":7,"v":0.95},{"x":55,"y":7,"v":0.95},{"x":65,"y":7,"v":0.95},{"x":75,"y":7,"v":0.95},{"x":85,"y":7,"v":0.95},
{"x":-85,"y":5,"v":0.95},{"x":-75,"y":5,"v":0.95},{"x":-65,"y":5,"v":0.95},{"x":-55,"y":5,"v":0.95},{"x":-45,"y":5,"v":1},{"x":-35,"y":5,"v":0.95},{"x":-25,"y":5,"v":0.9},{"x":-15,"y":5,"v":0.9},{"x":-5,"y":5,"v":0.9},{"x":5,"y":5,"v":0.9},{"x":15,"y":5,"v":0.9},{"x":25,"y":5,"v":0.9},{"x":35,"y":5,"v":0.95},{"x":45,"y":5,"v":0.95},{"x":55,"y":5,"v":0.95},{"x":65,"y":5,"v":0.9},{"x":75,"y":5,"v":0.95},{"x":85,"y":5,"v":0.95},
{"x":-85,"y":3,"v":0.95},{"x":-75,"y":3,"v":0.9},{"x":-65,"y":3,"v":0.95},{"x":-55,"y":3,"v":1},{"x":-45,"y":3,"v":1},{"x":-35,"y":3,"v":1},{"x":-25,"y":3,"v":0.95},{"x":-15,"y":3,"v":0.9},{"x":-5,"y":3,"v":0.9},{"x":5,"y":3,"v":0.85},{"x":15,"y":3,"v":0.9},{"x":25,"y":3,"v":0.95},{"x":35,"y":3,"v":0.95},{"x":45,"y":3,"v":0.95},{"x":55,"y":3,"v":0.95},{"x":65,"y":3,"v":0.95},{"x":75,"y":3,"v":0.95},{"x":85,"y":3,"v":1},
{"x":-85,"y":1,"v":1},{"x":-75,"y":1,"v":1},{"x":-65,"y":1,"v":1},{"x":-55,"y":1,"v":1},{"x":-45,"y":1,"v":0.95},{"x":-35,"y":1,"v":0.95},{"x":-25,"y":1,"v":0.95},{"x":-15,"y":1,"v":0.95},{"x":-5,"y":1,"v":0.95},{"x":5,"y":1,"v":0.95},{"x":15,"y":1,"v":0.95},{"x":25,"y":1,"v":0.95},{"x":35,"y":1,"v":0.95},{"x":45,"y":1,"v":0.95},{"x":55,"y":1,"v":1},{"x":65,"y":1,"v":1},{"x":75,"y":1,"v":0.95},{"x":85,"y":1,"v":0.95}],
"c3":[{"x":-85,"y":23,"v":1},{"x":-75,"y":23,"v":0.95},{"x":-65,"y":23,"v":1},{"x":-55,"y":23,"v":1},{"x":-45,"y":23,"v":0.95},{"x":-35,"y":23,"v":0.95},{"x":-25,"y":23,"v":1},{"x":-15,"y":23,"v":1.05},{"x":-5,"y":23,"v":1.1},{"x":5,"y":23,"v":1.1},{"x":15,"y":23,"v":1.05},{"x":25,"y":23,"v":1},{"x":35,"y":23,"v":1},{"x":45,"y":23,"v":1.05},{"x":55,"y":23,"v":1.05},{"x":65,"y":23,"v":1.05},{"x":75,"y":23,"v":1},{"x":85,"y":23,"v":1},
{"x":-85,"y":21,"v":1},{"x":-75,"y":21,"v":1},{"x":-65,"y":21,"v":0.95},{"x":-55,"y":21,"v":0.95},{"x":-45,"y":21,"v":0.95},{"x":-35,"y":21,"v":0.95},{"x":-25,"y":21,"v":0.95},{"x":-15,"y":21,"v":0.95},{"x":-5,"y":21,"v":0.95},{"x":5,"y":21,"v":0.95},{"x":15,"y":21,"v":0.95},{"x":25,"y":21,"v":1},{"x":35,"y":21,"v":1},{"x":45,"y":21,"v":1},{"x":55,"y":21,"v":1},{"x":65,"y":21,"v":0.95},{"x":75,"y":21,"v":1},{"x":85,"y":21,"v":1},
{"x":-85,"y":19,"v":1},{"x":-75,"y":19,"v":1},{"x":-65,"y":19,"v":1},{"x":-55,"y":19,"v":1},{"x":-45,"y":19,"v":1},{"x":-35,"y":19,"v":1},{"x":-25,"y":19,"v":1},{"x":-15,"y":19,"v":1},{"x":-5,"y":19,"v":1},{"x":5,"y":19,"v":1},{"x":15,"y":19,"v":1.05},{"x":25,"y":19,"v":1.05},{"x":35,"y":19,"v":1.05},{"x":45,"y":19,"v":1},{"x":55,"y":19,"v":1},{"x":65,"y":19,"v":1},{"x":75,"y":19,"v":1},{"x":85,"y":19,"v":1},
{"x":-85,"y":17,"v":0.95},{"x":-75,"y":17,"v":0.95},{"x":-65,"y":17,"v":0.95},{"x":-55,"y":17,"v":1},{"x":-45,"y":17,"v":1},{"x":-35,"y":17,"v":1},{"x":-25,"y":17,"v":1},{"x":-15,"y":17,"v":1},{"x":-5,"y":17,"v":1},{"x":5,"y":17,"v":1},{"x":15,"y":17,"v":1},{"x":25,"y":17,"v":0.95},{"x":35,"y":17,"v":0.95},{"x":45,"y":17,"v":0.95},{"x":55,"y":17,"v":0.95},{"x":65,"y":17,"v":1},{"x":75,"y":17,"v":1},{"x":85,"y":17,"v":1},
{"x":-85,"y":15,"v":0.95},{"x":-75,"y":15,"v":1},{"x":-65,"y":15,"v":1},{"x":-55,"y":15,"v":1},{"x":-45,"y":15,"v":1.05},{"x":-35,"y":15,"v":1.05},{"x":-25,"y":15,"v":1.05},{"x":-15,"y":15,"v":1.05},{"x":-5,"y":15,"v":1.05},{"x":5,"y":15,"v":1},{"x":15,"y":15,"v":1.05},{"x":25,"y":15,"v":1},{"x":35,"y":15,"v":1},{"x":45,"y":15,"v":1},{"x":55,"y":15,"v":1},{"x":65,"y":15,"v":1.05},{"x":75,"y":15,"v":1.05},{"x":85,"y":15,"v":1},
{"x":-85,"y":13,"v":1},{"x":-75,"y":13,"v":1},{"x":-65,"y":13,"v":1},{"x":-55,"y":13,"v":1},{"x":-45,"y":13,"v":1},{"x":-35,"y":13,"v":1.05},{"x":-25,"y":13,"v":1.05},{"x":-15,"y":13,"v":1.05},{"x":-5,"y":13,"v":1.05},{"x":5,"y":13,"v":1},{"x":15,"y":13,"v":1},{"x":25,"y":13,"v":1},{"x":35,"y":13,"v":1},{"x":45,"y":13,"v":1},{"x":55,"y":13,"v":1},{"x":65,"y":13,"v":1},{"x":75,"y":13,"v":1.05},{"x":85,"y":13,"v":1.05},
{"x":-85,"y":11,"v":1},{"x":-75,"y":11,"v":1},{"x":-65,"y":11,"v":1.05},{"x":-55,"y":11,"v":1.05},{"x":-45,"y":11,"v":1.05},{"x":-35,"y":11,"v":1.05},{"x":-25,"y":11,"v":1.05},{"x":-15,"y":11,"v":1.05},{"x":-5,"y":11,"v":1.05},{"x":5,"y":11,"v":1.05},{"x":15,"y":11,"v":1.05},{"x":25,"y":11,"v":1.05},{"x":35,"y":11,"v":1.05},{"x":45,"y":11,"v":1},{"x":55,"y":11,"v":1},{"x":65,"y":11,"v":1},{"x":75,"y":11,"v":1},{"x":85,"y":11,"v":1},
{"x":-85,"y":9,"v":0.95},{"x":-75,"y":9,"v":0.95},{"x":-65,"y":9,"v":0.95},{"x":-55,"y":9,"v":0.95},{"x":-45,"y":9,"v":0.95},{"x":-35,"y":9,"v":0.95},{"x":-25,"y":9,"v":0.95},{"x":-15,"y":9,"v":0.95},{"x":-5,"y":9,"v":1},{"x":5,"y":9,"v":1},{"x":15,"y":9,"v":1},{"x":25,"y":9,"v":1},{"x":35,"y":9,"v":1},{"x":45,"y":9,"v":1},{"x":55,"y":9,"v":1},{"x":65,"y":9,"v":1},{"x":75,"y":9,"v":1},{"x":85,"y":9,"v":1},
{"x":-85,"y":7,"v":0.95},{"x":-75,"y":7,"v":0.95},{"x":-65,"y":7,"v":0.95},{"x":-55,"y":7,"v":1},{"x":-45,"y":7,"v":1},{"x":-35,"y":7,"v":1},{"x":-25,"y":7,"v":1},{"x":-15,"y":7,"v":1.05},{"x":-5,"y":7,"v":1.05},{"x":5,"y":7,"v":1.05},{"x":15,"y":7,"v":1.05},{"x":25,"y":7,"v":1.05},{"x":35,"y":7,"v":1},{"x":45,"y":7,"v":1},{"x":55,"y":7,"v":1},{"x":65,"y":7,"v":1},{"x":75,"y":7,"v":1},{"x":85,"y":7,"v":1},
{"x":-85,"y":5,"v":1},{"x":-75,"y":5,"v":0.95},{"x":-65,"y":5,"v":0.95},{"x":-55,"y":5,"v":1},{"x":-45,"y":5,"v":1},{"x":-35,"y":5,"v":0.95},{"x":-25,"y":5,"v":0.95},{"x":-15,"y":5,"v":0.95},{"x":-5,"y":5,"v":0.95},{"x":5,"y":5,"v":0.95},{"x":15,"y":5,"v":0.95},{"x":25,"y":5,"v":0.95},{"x":35,"y":5,"v":0.95},{"x":45,"y":5,"v":1},{"x":55,"y":5,"v":0.95},{"x":65,"y":5,"v":0.95},{"x":75,"y":5,"v":0.95},{"x":85,"y":5,"v":0.95},
{"x":-85,"y":3,"v":1},{"x":-75,"y":3,"v":0.95},{"x":-65,"y":3,"v":1},{"x":-55,"y":3,"v":1.05},{"x":-45,"y":3,"v":1.05},{"x":-35,"y":3,"v":1.05},{"x":-25,"y":3,"v":1.05},{"x":-15,"y":3,"v":1},{"x":-5,"y":3,"v":0.95},{"x":5,"y":3,"v":0.95},{"x":15,"y":3,"v":0.95},{"x":25,"y":3,"v":1},{"x":35,"y":3,"v":1},{"x":45,"y":3,"v":1},{"x":55,"y":3,"v":1},{"x":65,"y":3,"v":1},{"x":75,"y":3,"v":1},{"x":85,"y":3,"v":1},
{"x":-85,"y":1,"v":1},{"x":-75,"y":1,"v":0.95},{"x":-65,"y":1,"v":0.95},{"x":-55,"y":1,"v":0.95},{"x":-45,"y":1,"v":0.95},{"x":-35,"y":1,"v":0.95},{"x":-25,"y":1,"v":1},{"x":-15,"y":1,"v":1},{"x":-5,"y":1,"v":1},{"x":5,"y":1,"v":1},{"x":15,"y":1,"v":0.95},{"x":25,"y":1,"v":0.95},{"x":35,"y":1,"v":0.95},{"x":45,"y":1,"v":0.95},{"x":55,"y":1,"v":1},{"x":65,"y":1,"v":1},{"x":75,"y":1,"v":0.95},{"x":85,"y":1,"v":1}],
"c4":[{"x":-85,"y":23,"v":1.05},{"x":-75,"y":23,"v":1.05},{"x":-65,"y":23,"v":1.05},{"x":-55,"y":23,"v":1},{"x":-45,"y":23,"v":1},{"x":-35,"y":23,"v":1},{"x":-25,"y":23,"v":1},{"x":-15,"y":23,"v":1.05},{"x":-5,"y":23,"v":1.1},{"x":5,"y":23,"v":1.05},{"x":15,"y":23,"v":1},{"x":25,"y":23,"v":0.95},{"x":35,"y":23,"v":1},{"x":45,"y":23,"v":1},{"x":55,"y":23,"v":1},{"x":65,"y":23,"v":1.05},{"x":75,"y":23,"v":1},{"x":85,"y":23,"v":1},
{"x":-85,"y":21,"v":1.05},{"x":-75,"y":21,"v":1},{"x":-65,"y":21,"v":1},{"x":-55,"y":21,"v":1},{"x":-45,"y":21,"v":0.95},{"x":-35,"y":21,"v":0.95},{"x":-25,"y":21,"v":0.9},{"x":-15,"y":21,"v":0.9},{"x":-5,"y":21,"v":0.85},{"x":5,"y":21,"v":0.85},{"x":15,"y":21,"v":0.9},{"x":25,"y":21,"v":0.95},{"x":35,"y":21,"v":1},{"x":45,"y":21,"v":1},{"x":55,"y":21,"v":1},{"x":65,"y":21,"v":1.05},{"x":75,"y":21,"v":1.05},{"x":85,"y":21,"v":1},
{"x":-85,"y":19,"v":1},{"x":-75,"y":19,"v":1.05},{"x":-65,"y":19,"v":1.05},{"x":-55,"y":19,"v":1},{"x":-45,"y":19,"v":1},{"x":-35,"y":19,"v":1},{"x":-25,"y":19,"v":1},{"x":-15,"y":19,"v":0.95},{"x":-5,"y":19,"v":0.95},{"x":5,"y":19,"v":0.95},{"x":15,"y":19,"v":1},{"x":25,"y":19,"v":1},{"x":35,"y":19,"v":1},{"x":45,"y":19,"v":1},{"x":55,"y":19,"v":1},{"x":65,"y":19,"v":1},{"x":75,"y":19,"v":1},{"x":85,"y":19,"v":1.05},
{"x":-85,"y":17,"v":1},{"x":-75,"y":17,"v":1},{"x":-65,"y":17,"v":1},{"x":-55,"y":17,"v":1},{"x":-45,"y":17,"v":1},{"x":-35,"y":17,"v":1},{"x":-25,"y":17,"v":1},{"x":-15,"y":17,"v":1},{"x":-5,"y":17,"v":1},{"x":5,"y":17,"v":1},{"x":15,"y":17,"v":1},{"x":25,"y":17,"v":0.95},{"x":35,"y":17,"v":0.95},{"x":45,"y":17,"v":0.95},{"x":55,"y":17,"v":0.95},{"x":65,"y":17,"v":0.95},{"x":75,"y":17,"v":1},{"x":85,"y":17,"v":1},
{"x":-85,"y":15,"v":1},{"x":-75,"y":15,"v":1},{"x":-65,"y":15,"v":1},{"x":-55,"y":15,"v":1},{"x":-45,"y":15,"v":1},{"x":-35,"y":15,"v":1},{"x":-25,"y":15,"v":1},{"x":-15,"y":15,"v":1},{"x":-5,"y":15,"v":1},{"x":5,"y":15,"v":0.95},{"x":15,"y":15,"v":0.95},{"x":25,"y":15,"v":0.95},{"x":35,"y":15,"v":0.95},{"x":45,"y":15,"v":0.95},{"x":55,"y":15,"v":0.95},{"x":65,"y":15,"v":1},{"x":75,"y":15,"v":1.05},{"x":85,"y":15,"v":1},
{"x":-85,"y":13,"v":1},{"x":-75,"y":13,"v":1},{"x":-65,"y":13,"v":1},{"x":-55,"y":13,"v":0.95},{"x":-45,"y":13,"v":0.95},{"x":-35,"y":13,"v":1},{"x":-25,"y":13,"v":0.95},{"x":-15,"y":13,"v":0.95},{"x":-5,"y":13,"v":0.9},{"x":5,"y":13,"v":0.9},{"x":15,"y":13,"v":0.9},{"x":25,"y":13,"v":0.95},{"x":35,"y":13,"v":0.95},{"x":45,"y":13,"v":0.95},{"x":55,"y":13,"v":1},{"x":65,"y":13,"v":1},{"x":75,"y":13,"v":1.05},{"x":85,"y":13,"v":1.05},
{"x":-85,"y":11,"v":1},{"x":-75,"y":11,"v":1},{"x":-65,"y":11,"v":1},{"x":-55,"y":11,"v":1},{"x":-45,"y":11,"v":1},{"x":-35,"y":11,"v":0.95},{"x":-25,"y":11,"v":0.95},{"x":-15,"y":11,"v":0.95},{"x":-5,"y":11,"v":0.9},{"x":5,"y":11,"v":0.9},{"x":15,"y":11,"v":0.95},{"x":25,"y":11,"v":0.95},{"x":35,"y":11,"v":1},{"x":45,"y":11,"v":1},{"x":55,"y":11,"v":1},{"x":65,"y":11,"v":1.05},{"x":75,"y":11,"v":1.05},{"x":85,"y":11,"v":1.05},
{"x":-85,"y":9,"v":1},{"x":-75,"y":9,"v":1},{"x":-65,"y":9,"v":1},{"x":-55,"y":9,"v":1},{"x":-45,"y":9,"v":0.95},{"x":-35,"y":9,"v":0.95},{"x":-25,"y":9,"v":0.95},{"x":-15,"y":9,"v":0.95},{"x":-5,"y":9,"v":0.95},{"x":5,"y":9,"v":0.95},{"x":15,"y":9,"v":0.95},{"x":25,"y":9,"v":1},{"x":35,"y":9,"v":1},{"x":45,"y":9,"v":1},{"x":55,"y":9,"v":1},{"x":65,"y":9,"v":1},{"x":75,"y":9,"v":1},{"x":85,"y":9,"v":1},
{"x":-85,"y":7,"v":1},{"x":-75,"y":7,"v":0.95},{"x":-65,"y":7,"v":0.95},{"x":-55,"y":7,"v":0.95},{"x":-45,"y":7,"v":1},{"x":-35,"y":7,"v":1},{"x":-25,"y":7,"v":1},{"x":-15,"y":7,"v":1},{"x":-5,"y":7,"v":1},{"x":5,"y":7,"v":1},{"x":15,"y":7,"v":1},{"x":25,"y":7,"v":1},{"x":35,"y":7,"v":1},{"x":45,"y":7,"v":0.95},{"x":55,"y":7,"v":0.95},{"x":65,"y":7,"v":1},{"x":75,"y":7,"v":1},{"x":85,"y":7,"v":1},
{"x":-85,"y":5,"v":1},{"x":-75,"y":5,"v":0.95},{"x":-65,"y":5,"v":0.95},{"x":-55,"y":5,"v":0.95},{"x":-45,"y":5,"v":0.95},{"x":-35,"y":5,"v":0.95},{"x":-25,"y":5,"v":0.9},{"x":-15,"y":5,"v":0.9},{"x":-5,"y":5,"v":0.9},{"x":5,"y":5,"v":0.9},{"x":15,"y":5,"v":0.9},{"x":25,"y":5,"v":0.9},{"x":35,"y":5,"v":0.9},{"x":45,"y":5,"v":0.9},{"x":55,"y":5,"v":0.9},{"x":65,"y":5,"v":0.9},{"x":75,"y":5,"v":0.95},{"x":85,"y":5,"v":1},
{"x":-85,"y":3,"v":1},{"x":-75,"y":3,"v":0.95},{"x":-65,"y":3,"v":0.95},{"x":-55,"y":3,"v":0.95},{"x":-45,"y":3,"v":1},{"x":-35,"y":3,"v":1},{"x":-25,"y":3,"v":1},{"x":-15,"y":3,"v":1},{"x":-5,"y":3,"v":1},{"x":5,"y":3,"v":0.95},{"x":15,"y":3,"v":0.95},{"x":25,"y":3,"v":0.95},{"x":35,"y":3,"v":0.95},{"x":45,"y":3,"v":0.9},{"x":55,"y":3,"v":0.9},{"x":65,"y":3,"v":0.95},{"x":75,"y":3,"v":0.95},{"x":85,"y":3,"v":1},
{"x":-85,"y":1,"v":1},{"x":-75,"y":1,"v":1},{"x":-65,"y":1,"v":0.95},{"x":-55,"y":1,"v":0.95},{"x":-45,"y":1,"v":0.95},{"x":-35,"y":1,"v":1},{"x":-25,"y":1,"v":1.05},{"x":-15,"y":1,"v":1.1},{"x":-5,"y":1,"v":1.05},{"x":5,"y":1,"v":1.05},{"x":15,"y":1,"v":1},{"x":25,"y":1,"v":0.95},{"x":35,"y":1,"v":0.9},{"x":45,"y":1,"v":0.9},{"x":55,"y":1,"v":0.95},{"x":65,"y":1,"v":0.95},{"x":75,"y":1,"v":1},{"x":85,"y":1,"v":1}],
"c5":[{"x":-85,"y":23,"v":0.95},{"x":-75,"y":23,"v":0.95},{"x":-65,"y":23,"v":0.9},{"x":-55,"y":23,"v":0.9},{"x":-45,"y":23,"v":0.9},{"x":-35,"y":23,"v":0.9},{"x":-25,"y":23,"v":0.95},{"x":-15,"y":23,"v":1},{"x":-5,"y":23,"v":1},{"x":5,"y":23,"v":1},{"x":15,"y":23,"v":0.95},{"x":25,"y":23,"v":0.95},{"x":35,"y":23,"v":0.95},{"x":45,"y":23,"v":0.95},{"x":55,"y":23,"v":0.95},{"x":65,"y":23,"v":1},{"x":75,"y":23,"v":1},{"x":85,"y":23,"v":1},
{"x":-85,"y":21,"v":0.95},{"x":-75,"y":21,"v":0.9},{"x":-65,"y":21,"v":0.9},{"x":-55,"y":21,"v":0.9},{"x":-45,"y":21,"v":0.9},{"x":-35,"y":21,"v":0.9},{"x":-25,"y":21,"v":0.9},{"x":-15,"y":21,"v":0.9},{"x":-5,"y":21,"v":0.9},{"x":5,"y":21,"v":0.95},{"x":15,"y":21,"v":0.95},{"x":25,"y":21,"v":0.95},{"x":35,"y":21,"v":0.95},{"x":45,"y":21,"v":0.95},{"x":55,"y":21,"v":0.95},{"x":65,"y":21,"v":0.95},{"x":75,"y":21,"v":1},{"x":85,"y":21,"v":1},
{"x":-85,"y":19,"v":0.95},{"x":-75,"y":19,"v":1},{"x":-65,"y":19,"v":1},{"x":-55,"y":19,"v":1},{"x":-45,"y":19,"v":1.05},{"x":-35,"y":19,"v":1.05},{"x":-25,"y":19,"v":1.05},{"x":-15,"y":19,"v":1.05},{"x":-5,"y":19,"v":1.05},{"x":5,"y":19,"v":1.05},{"x":15,"y":19,"v":1.05},{"x":25,"y":19,"v":1.1},{"x":35,"y":19,"v":1.1},{"x":45,"y":19,"v":1.05},{"x":55,"y":19,"v":1.05},{"x":65,"y":19,"v":1.05},{"x":75,"y":19,"v":1.05},{"x":85,"y":19,"v":1.05},
{"x":-85,"y":17,"v":0.95},{"x":-75,"y":17,"v":0.9},{"x":-65,"y":17,"v":0.95},{"x":-55,"y":17,"v":0.95},{"x":-45,"y":17,"v":0.95},{"x":-35,"y":17,"v":1},{"x":-25,"y":17,"v":1},{"x":-15,"y":17,"v":1},{"x":-5,"y":17,"v":1},{"x":5,"y":17,"v":1},{"x":15,"y":17,"v":1},{"x":25,"y":17,"v":1},{"x":35,"y":17,"v":0.95},{"x":45,"y":17,"v":0.95},{"x":55,"y":17,"v":0.95},{"x":65,"y":17,"v":1},{"x":75,"y":17,"v":1},{"x":85,"y":17,"v":1.05},
{"x":-85,"y":15,"v":0.95},{"x":-75,"y":15,"v":0.95},{"x":-65,"y":15,"v":0.95},{"x":-55,"y":15,"v":1},{"x":-45,"y":15,"v":1},{"x":-35,"y":15,"v":1.05},{"x":-25,"y":15,"v":1.05},{"x":-15,"y":15,"v":1.05},{"x":-5,"y":15,"v":1.05},{"x":5,"y":15,"v":1.05},{"x":15,"y":15,"v":1.05},{"x":25,"y":15,"v":1.05},{"x":35,"y":15,"v":1},{"x":45,"y":15,"v":1},{"x":55,"y":15,"v":1.05},{"x":65,"y":15,"v":1.05},{"x":75,"y":15,"v":1.05},{"x":85,"y":15,"v":1},
{"x":-85,"y":13,"v":1},{"x":-75,"y":13,"v":0.95},{"x":-65,"y":13,"v":0.95},{"x":-55,"y":13,"v":0.95},{"x":-45,"y":13,"v":1},{"x":-35,"y":13,"v":1.05},{"x":-25,"y":13,"v":1.05},{"x":-15,"y":13,"v":1.05},{"x":-5,"y":13,"v":1.05},{"x":5,"y":13,"v":1.05},{"x":15,"y":13,"v":1.1},{"x":25,"y":13,"v":1.1},{"x":35,"y":13,"v":1.05},{"x":45,"y":13,"v":1.05},{"x":55,"y":13,"v":1.05},{"x":65,"y":13,"v":1.05},{"x":75,"y":13,"v":1.1},{"x":85,"y":13,"v":1.05},
{"x":-85,"y":11,"v":1},{"x":-75,"y":11,"v":0.95},{"x":-65,"y":11,"v":0.9},{"x":-55,"y":11,"v":0.9},{"x":-45,"y":11,"v":0.95},{"x":-35,"y":11,"v":1},{"x":-25,"y":11,"v":1},{"x":-15,"y":11,"v":1.05},{"x":-5,"y":11,"v":1.05},{"x":5,"y":11,"v":1.05},{"x":15,"y":11,"v":1.05},{"x":25,"y":11,"v":1.05},{"x":35,"y":11,"v":1},{"x":45,"y":11,"v":1},{"x":55,"y":11,"v":1},{"x":65,"y":11,"v":1},{"x":75,"y":11,"v":1.05},{"x":85,"y":11,"v":1.05},
{"x":-85,"y":9,"v":0.95},{"x":-75,"y":9,"v":0.85},{"x":-65,"y":9,"v":0.85},{"x":-55,"y":9,"v":0.8},{"x":-45,"y":9,"v":0.8},{"x":-35,"y":9,"v":0.85},{"x":-25,"y":9,"v":0.9},{"x":-15,"y":9,"v":0.95},{"x":-5,"y":9,"v":0.95},{"x":5,"y":9,"v":0.95},{"x":15,"y":9,"v":0.95},{"x":25,"y":9,"v":0.95},{"x":35,"y":9,"v":0.95},{"x":45,"y":9,"v":0.9},{"x":55,"y":9,"v":0.95},{"x":65,"y":9,"v":0.95},{"x":75,"y":9,"v":1},{"x":85,"y":9,"v":1},
{"x":-85,"y":7,"v":0.95},{"x":-75,"y":7,"v":0.95},{"x":-65,"y":7,"v":0.95},{"x":-55,"y":7,"v":0.9},{"x":-45,"y":7,"v":0.9},{"x":-35,"y":7,"v":0.9},{"x":-25,"y":7,"v":0.95},{"x":-15,"y":7,"v":0.95},{"x":-5,"y":7,"v":0.95},{"x":5,"y":7,"v":0.95},{"x":15,"y":7,"v":0.95},{"x":25,"y":7,"v":0.95},{"x":35,"y":7,"v":0.95},{"x":45,"y":7,"v":0.95},{"x":55,"y":7,"v":0.95},{"x":65,"y":7,"v":1},{"x":75,"y":7,"v":1.1},{"x":85,"y":7,"v":1.05},
{"x":-85,"y":5,"v":0.95},{"x":-75,"y":5,"v":0.9},{"x":-65,"y":5,"v":0.85},{"x":-55,"y":5,"v":0.8},{"x":-45,"y":5,"v":0.8},{"x":-35,"y":5,"v":0.75},{"x":-25,"y":5,"v":0.75},{"x":-15,"y":5,"v":0.75},{"x":-5,"y":5,"v":0.75},{"x":5,"y":5,"v":0.75},{"x":15,"y":5,"v":0.75},{"x":25,"y":5,"v":0.75},{"x":35,"y":5,"v":0.75},{"x":45,"y":5,"v":0.8},{"x":55,"y":5,"v":0.85},{"x":65,"y":5,"v":0.9},{"x":75,"y":5,"v":0.95},{"x":85,"y":5,"v":1},
{"x":-85,"y":3,"v":0.95},{"x":-75,"y":3,"v":0.9},{"x":-65,"y":3,"v":0.9},{"x":-55,"y":3,"v":0.85},{"x":-45,"y":3,"v":0.85},{"x":-35,"y":3,"v":0.85},{"x":-25,"y":3,"v":0.8},{"x":-15,"y":3,"v":0.8},{"x":-5,"y":3,"v":0.8},{"x":5,"y":3,"v":0.8},{"x":15,"y":3,"v":0.8},{"x":25,"y":3,"v":0.8},{"x":35,"y":3,"v":0.8},{"x":45,"y":3,"v":0.8},{"x":55,"y":3,"v":0.85},{"x":65,"y":3,"v":0.9},{"x":75,"y":3,"v":1},{"x":85,"y":3,"v":1},
{"x":-85,"y":1,"v":0.95},{"x":-75,"y":1,"v":0.95},{"x":-65,"y":1,"v":0.9},{"x":-55,"y":1,"v":0.9},{"x":-45,"y":1,"v":0.9},{"x":-35,"y":1,"v":0.9},{"x":-25,"y":1,"v":0.9},{"x":-15,"y":1,"v":0.9},{"x":-5,"y":1,"v":0.9},{"x":5,"y":1,"v":0.9},{"x":15,"y":1,"v":0.85},{"x":25,"y":1,"v":0.85},{"x":35,"y":1,"v":0.85},{"x":45,"y":1,"v":0.85},{"x":55,"y":1,"v":0.9},{"x":65,"y":1,"v":0.95},{"x":75,"y":1,"v":1},{"x":85,"y":1,"v":1}],
"c6":[{"x":-85,"y":23,"v":1},{"x":-75,"y":23,"v":1},{"x":-65,"y":23,"v":1.05},{"x":-55,"y":23,"v":1},{"x":-45,"y":23,"v":0.95},{"x":-35,"y":23,"v":0.95},{"x":-25,"y":23,"v":1},{"x":-15,"y":23,"v":0.95},{"x":-5,"y":23,"v":0.95},{"x":5,"y":23,"v":0.95},{"x":15,"y":23,"v":0.95},{"x":25,"y":23,"v":0.95},{"x":35,"y":23,"v":0.95},{"x":45,"y":23,"v":0.95},{"x":55,"y":23,"v":1},{"x":65,"y":23,"v":1},{"x":75,"y":23,"v":1},{"x":85,"y":23,"v":1},
{"x":-85,"y":21,"v":1.05},{"x":-75,"y":21,"v":1},{"x":-65,"y":21,"v":1},{"x":-55,"y":21,"v":0.95},{"x":-45,"y":21,"v":0.95},{"x":-35,"y":21,"v":0.95},{"x":-25,"y":21,"v":0.95},{"x":-15,"y":21,"v":0.95},{"x":-5,"y":21,"v":0.95},{"x":5,"y":21,"v":0.95},{"x":15,"y":21,"v":0.95},{"x":25,"y":21,"v":0.9},{"x":35,"y":21,"v":0.9},{"x":45,"y":21,"v":0.95},{"x":55,"y":21,"v":0.95},{"x":65,"y":21,"v":0.95},{"x":75,"y":21,"v":0.95},{"x":85,"y":21,"v":0.95},
{"x":-85,"y":19,"v":1},{"x":-75,"y":19,"v":1.05},{"x":-65,"y":19,"v":1.05},{"x":-55,"y":19,"v":1},{"x":-45,"y":19,"v":1},{"x":-35,"y":19,"v":1},{"x":-25,"y":19,"v":1.05},{"x":-15,"y":19,"v":1},{"x":-5,"y":19,"v":1},{"x":5,"y":19,"v":1},{"x":15,"y":19,"v":1.05},{"x":25,"y":19,"v":1.05},{"x":35,"y":19,"v":1.05},{"x":45,"y":19,"v":1},{"x":55,"y":19,"v":1},{"x":65,"y":19,"v":1},{"x":75,"y":19,"v":1},{"x":85,"y":19,"v":1},
{"x":-85,"y":17,"v":0.95},{"x":-75,"y":17,"v":0.9},{"x":-65,"y":17,"v":0.9},{"x":-55,"y":17,"v":0.95},{"x":-45,"y":17,"v":0.95},{"x":-35,"y":17,"v":0.95},{"x":-25,"y":17,"v":0.95},{"x":-15,"y":17,"v":0.95},{"x":-5,"y":17,"v":0.95},{"x":5,"y":17,"v":0.95},{"x":15,"y":17,"v":0.95},{"x":25,"y":17,"v":0.95},{"x":35,"y":17,"v":0.9},{"x":45,"y":17,"v":0.9},{"x":55,"y":17,"v":0.9},{"x":65,"y":17,"v":0.95},{"x":75,"y":17,"v":0.95},{"x":85,"y":17,"v":0.95},
{"x":-85,"y":15,"v":0.95},{"x":-75,"y":15,"v":0.95},{"x":-65,"y":15,"v":0.95},{"x":-55,"y":15,"v":0.95},{"x":-45,"y":15,"v":0.95},{"x":-35,"y":15,"v":1},{"x":-25,"y":15,"v":1.05},{"x":-15,"y":15,"v":1.05},{"x":-5,"y":15,"v":1.05},{"x":5,"y":15,"v":1.05},{"x":15,"y":15,"v":1.05},{"x":25,"y":15,"v":1},{"x":35,"y":15,"v":1},{"x":45,"y":15,"v":0.95},{"x":55,"y":15,"v":0.95},{"x":65,"y":15,"v":0.95},{"x":75,"y":15,"v":0.95},{"x":85,"y":15,"v":0.95},
{"x":-85,"y":13,"v":1},{"x":-75,"y":13,"v":0.95},{"x":-65,"y":13,"v":0.95},{"x":-55,"y":13,"v":0.95},{"x":-45,"y":13,"v":0.95},{"x":-35,"y":13,"v":1},{"x":-25,"y":13,"v":1.05},{"x":-15,"y":13,"v":1.05},{"x":-5,"y":13,"v":1.05},{"x":5,"y":13,"v":1.05},{"x":15,"y":13,"v":1.05},{"x":25,"y":13,"v":1.05},{"x":35,"y":13,"v":1},{"x":45,"y":13,"v":0.95},{"x":55,"y":13,"v":0.95},{"x":65,"y":13,"v":0.9},{"x":75,"y":13,"v":0.95},{"x":85,"y":13,"v":0.95},
{"x":-85,"y":11,"v":1},{"x":-75,"y":11,"v":0.95},{"x":-65,"y":11,"v":0.95},{"x":-55,"y":11,"v":0.95},{"x":-45,"y":11,"v":1},{"x":-35,"y":11,"v":1},{"x":-25,"y":11,"v":1.05},{"x":-15,"y":11,"v":1.05},{"x":-5,"y":11,"v":1.05},{"x":5,"y":11,"v":1.05},{"x":15,"y":11,"v":1.05},{"x":25,"y":11,"v":1},{"x":35,"y":11,"v":1},{"x":45,"y":11,"v":0.95},{"x":55,"y":11,"v":0.95},{"x":65,"y":11,"v":0.95},{"x":75,"y":11,"v":0.95},{"x":85,"y":11,"v":0.95},
{"x":-85,"y":9,"v":1},{"x":-75,"y":9,"v":0.95},{"x":-65,"y":9,"v":0.95},{"x":-55,"y":9,"v":0.9},{"x":-45,"y":9,"v":0.9},{"x":-35,"y":9,"v":0.9},{"x":-25,"y":9,"v":0.95},{"x":-15,"y":9,"v":0.95},{"x":-5,"y":9,"v":0.95},{"x":5,"y":9,"v":0.95},{"x":15,"y":9,"v":0.95},{"x":25,"y":9,"v":0.95},{"x":35,"y":9,"v":0.95},{"x":45,"y":9,"v":0.9},{"x":55,"y":9,"v":0.9},{"x":65,"y":9,"v":0.9},{"x":75,"y":9,"v":0.95},{"x":85,"y":9,"v":0.95},
{"x":-85,"y":7,"v":1},{"x":-75,"y":7,"v":1},{"x":-65,"y":7,"v":1},{"x":-55,"y":7,"v":1},{"x":-45,"y":7,"v":0.95},{"x":-35,"y":7,"v":0.95},{"x":-25,"y":7,"v":0.95},{"x":-15,"y":7,"v":1},{"x":-5,"y":7,"v":1},{"x":5,"y":7,"v":1},{"x":15,"y":7,"v":1},{"x":25,"y":7,"v":0.95},{"x":35,"y":7,"v":0.95},{"x":45,"y":7,"v":0.95},{"x":55,"y":7,"v":0.95},{"x":65,"y":7,"v":0.95},{"x":75,"y":7,"v":1},{"x":85,"y":7,"v":1},
{"x":-85,"y":5,"v":1},{"x":-75,"y":5,"v":0.95},{"x":-65,"y":5,"v":0.95},{"x":-55,"y":5,"v":0.95},{"x":-45,"y":5,"v":0.9},{"x":-35,"y":5,"v":0.9},{"x":-25,"y":5,"v":0.85},{"x":-15,"y":5,"v":0.85},{"x":-5,"y":5,"v":0.85},{"x":5,"y":5,"v":0.85},{"x":15,"y":5,"v":0.9},{"x":25,"y":5,"v":0.9},{"x":35,"y":5,"v":0.9},{"x":45,"y":5,"v":0.9},{"x":55,"y":5,"v":0.95},{"x":65,"y":5,"v":0.95},{"x":75,"y":5,"v":1},{"x":85,"y":5,"v":0.95},
{"x":-85,"y":3,"v":0.95},{"x":-75,"y":3,"v":0.95},{"x":-65,"y":3,"v":1},{"x":-55,"y":3,"v":1},{"x":-45,"y":3,"v":0.95},{"x":-35,"y":3,"v":0.95},{"x":-25,"y":3,"v":0.9},{"x":-15,"y":3,"v":0.9},{"x":-5,"y":3,"v":0.9},{"x":5,"y":3,"v":0.9},{"x":15,"y":3,"v":0.9},{"x":25,"y":3,"v":0.9},{"x":35,"y":3,"v":0.9},{"x":45,"y":3,"v":0.95},{"x":55,"y":3,"v":1},{"x":65,"y":3,"v":1},{"x":75,"y":3,"v":1},{"x":85,"y":3,"v":0.95},
{"x":-85,"y":1,"v":0.95},{"x":-75,"y":1,"v":0.95},{"x":-65,"y":1,"v":0.95},{"x":-55,"y":1,"v":0.95},{"x":-45,"y":1,"v":0.9},{"x":-35,"y":1,"v":0.9},{"x":-25,"y":1,"v":0.9},{"x":-15,"y":1,"v":0.9},{"x":-5,"y":1,"v":0.9},{"x":5,"y":1,"v":0.9},{"x":15,"y":1,"v":0.9},{"x":25,"y":1,"v":0.9},{"x":35,"y":1,"v":0.9},{"x":45,"y":1,"v":0.95},{"x":55,"y":1,"v":1},{"x":65,"y":1,"v":1},{"x":75,"y":1,"v":1},{"x":85,"y":1,"v":0.95}],
"c7":[{"x":-85,"y":23,"v":1},{"x":-75,"y":23,"v":1},{"x":-65,"y":23,"v":1},{"x":-55,"y":23,"v":1},{"x":-45,"y":23,"v":1},{"x":-35,"y":23,"v":1},{"x":-25,"y":23,"v":1},{"x":-15,"y":23,"v":1},{"x":-5,"y":23,"v":1},{"x":5,"y":23,"v":0.95},{"x":15,"y":23,"v":0.95},{"x":25,"y":23,"v":0.95},{"x":35,"y":23,"v":1},{"x":45,"y":23,"v":1},{"x":55,"y":23,"v":1},{"x":65,"y":23,"v":1},{"x":75,"y":23,"v":1},{"x":85,"y":23,"v":1},
{"x":-85,"y":21,"v":1.05},{"x":-75,"y":21,"v":1},{"x":-65,"y":21,"v":1},{"x":-55,"y":21,"v":1},{"x":-45,"y":21,"v":1},{"x":-35,"y":21,"v":1},{"x":-25,"y":21,"v":1},{"x":-15,"y":21,"v":1},{"x":-5,"y":21,"v":1},{"x":5,"y":21,"v":1},{"x":15,"y":21,"v":1},{"x":25,"y":21,"v":1},{"x":35,"y":21,"v":1},{"x":45,"y":21,"v":1},{"x":55,"y":21,"v":1},{"x":65,"y":21,"v":1},{"x":75,"y":21,"v":1},{"x":85,"y":21,"v":1},
{"x":-85,"y":19,"v":1},{"x":-75,"y":19,"v":1.05},{"x":-65,"y":19,"v":1.05},{"x":-55,"y":19,"v":1.05},{"x":-45,"y":19,"v":1.05},{"x":-35,"y":19,"v":1.05},{"x":-25,"y":19,"v":1.05},{"x":-15,"y":19,"v":1.05},{"x":-5,"y":19,"v":1.05},{"x":5,"y":19,"v":1.05},{"x":15,"y":19,"v":1.1},{"x":25,"y":19,"v":1.1},{"x":35,"y":19,"v":1.05},{"x":45,"y":19,"v":1.05},{"x":55,"y":19,"v":1.05},{"x":65,"y":19,"v":1.05},{"x":75,"y":19,"v":1.05},{"x":85,"y":19,"v":1.05},
{"x":-85,"y":17,"v":0.95},{"x":-75,"y":17,"v":0.95},{"x":-65,"y":17,"v":0.95},{"x":-55,"y":17,"v":1},{"x":-45,"y":17,"v":1},{"x":-35,"y":17,"v":1},{"x":-25,"y":17,"v":1.05},{"x":-15,"y":17,"v":1.05},{"x":-5,"y":17,"v":1.05},{"x":5,"y":17,"v":1.05},{"x":15,"y":17,"v":1.05},{"x":25,"y":17,"v":1},{"x":35,"y":17,"v":1},{"x":45,"y":17,"v":1},{"x":55,"y":17,"v":0.95},{"x":65,"y":17,"v":0.95},{"x":75,"y":17,"v":1},{"x":85,"y":17,"v":1},
{"x":-85,"y":15,"v":1},{"x":-75,"y":15,"v":1},{"x":-65,"y":15,"v":1},{"x":-55,"y":15,"v":1},{"x":-45,"y":15,"v":1.05},{"x":-35,"y":15,"v":1.1},{"x":-25,"y":15,"v":1.1},{"x":-15,"y":15,"v":1.15},{"x":-5,"y":15,"v":1.15},{"x":5,"y":15,"v":1.1},{"x":15,"y":15,"v":1.1},{"x":25,"y":15,"v":1.1},{"x":35,"y":15,"v":1.05},{"x":45,"y":15,"v":1},{"x":55,"y":15,"v":1},{"x":65,"y":15,"v":0.95},{"x":75,"y":15,"v":0.95},{"x":85,"y":15,"v":1},
{"x":-85,"y":13,"v":1},{"x":-75,"y":13,"v":0.95},{"x":-65,"y":13,"v":0.95},{"x":-55,"y":13,"v":1},{"x":-45,"y":13,"v":1},{"x":-35,"y":13,"v":1.05},{"x":-25,"y":13,"v":1.1},{"x":-15,"y":13,"v":1.1},{"x":-5,"y":13,"v":1.1},{"x":5,"y":13,"v":1.1},{"x":15,"y":13,"v":1.1},{"x":25,"y":13,"v":1.1},{"x":35,"y":13,"v":1.05},{"x":45,"y":13,"v":1},{"x":55,"y":13,"v":1},{"x":65,"y":13,"v":0.95},{"x":75,"y":13,"v":1},{"x":85,"y":13,"v":1},
{"x":-85,"y":11,"v":1},{"x":-75,"y":11,"v":1},{"x":-65,"y":11,"v":1},{"x":-55,"y":11,"v":1},{"x":-45,"y":11,"v":1},{"x":-35,"y":11,"v":1.05},{"x":-25,"y":11,"v":1.1},{"x":-15,"y":11,"v":1.1},{"x":-5,"y":11,"v":1.1},{"x":5,"y":11,"v":1.1},{"x":15,"y":11,"v":1.1},{"x":25,"y":11,"v":1.05},{"x":35,"y":11,"v":1.05},{"x":45,"y":11,"v":1},{"x":55,"y":11,"v":1},{"x":65,"y":11,"v":0.95},{"x":75,"y":11,"v":1},{"x":85,"y":11,"v":1.05},
{"x":-85,"y":9,"v":1},{"x":-75,"y":9,"v":1},{"x":-65,"y":9,"v":1},{"x":-55,"y":9,"v":0.95},{"x":-45,"y":9,"v":0.95},{"x":-35,"y":9,"v":1},{"x":-25,"y":9,"v":1},{"x":-15,"y":9,"v":1},{"x":-5,"y":9,"v":1},{"x":5,"y":9,"v":1},{"x":15,"y":9,"v":1},{"x":25,"y":9,"v":1},{"x":35,"y":9,"v":1},{"x":45,"y":9,"v":1},{"x":55,"y":9,"v":0.95},{"x":65,"y":9,"v":1},{"x":75,"y":9,"v":1.05},{"x":85,"y":9,"v":1},
{"x":-85,"y":7,"v":1},{"x":-75,"y":7,"v":1},{"x":-65,"y":7,"v":1.05},{"x":-55,"y":7,"v":1},{"x":-45,"y":7,"v":1},{"x":-35,"y":7,"v":1},{"x":-25,"y":7,"v":1},{"x":-15,"y":7,"v":1},{"x":-5,"y":7,"v":1},{"x":5,"y":7,"v":1},{"x":15,"y":7,"v":1},{"x":25,"y":7,"v":1},{"x":35,"y":7,"v":1},{"x":45,"y":7,"v":1},{"x":55,"y":7,"v":1},{"x":65,"y":7,"v":1.05},{"x":75,"y":7,"v":1.1},{"x":85,"y":7,"v":1.05},
{"x":-85,"y":5,"v":1.05},{"x":-75,"y":5,"v":1},{"x":-65,"y":5,"v":0.95},{"x":-55,"y":5,"v":0.95},{"x":-45,"y":5,"v":0.95},{"x":-35,"y":5,"v":0.9},{"x":-25,"y":5,"v":0.9},{"x":-15,"y":5,"v":0.9},{"x":-5,"y":5,"v":0.9},{"x":5,"y":5,"v":0.9},{"x":15,"y":5,"v":0.9},{"x":25,"y":5,"v":0.9},{"x":35,"y":5,"v":0.9},{"x":45,"y":5,"v":0.95},{"x":55,"y":5,"v":0.95},{"x":65,"y":5,"v":1},{"x":75,"y":5,"v":1},{"x":85,"y":5,"v":1},
{"x":-85,"y":3,"v":1},{"x":-75,"y":3,"v":0.95},{"x":-65,"y":3,"v":1},{"x":-55,"y":3,"v":1},{"x":-45,"y":3,"v":0.95},{"x":-35,"y":3,"v":0.95},{"x":-25,"y":3,"v":0.95},{"x":-15,"y":3,"v":0.9},{"x":-5,"y":3,"v":0.9},{"x":5,"y":3,"v":0.9},{"x":15,"y":3,"v":0.9},{"x":25,"y":3,"v":0.9},{"x":35,"y":3,"v":0.9},{"x":45,"y":3,"v":0.95},{"x":55,"y":3,"v":1},{"x":65,"y":3,"v":1},{"x":75,"y":3,"v":1},{"x":85,"y":3,"v":1},
{"x":-85,"y":1,"v":0.95},{"x":-75,"y":1,"v":0.95},{"x":-65,"y":1,"v":0.95},{"x":-55,"y":1,"v":0.95},{"x":-45,"y":1,"v":0.95},{"x":-35,"y":1,"v":0.95},{"x":-25,"y":1,"v":0.95},{"x":-15,"y":1,"v":0.9},{"x":-5,"y":1,"v":0.9},{"x":5,"y":1,"v":0.9},{"x":15,"y":1,"v":0.9},{"x":25,"y":1,"v":0.9},{"x":35,"y":1,"v":0.9},{"x":45,"y":1,"v":0.95},{"x":55,"y":1,"v":0.95},{"x":65,"y":1,"v":1},{"x":75,"y":1,"v":1},{"x":85,"y":1,"v":1}],
"c8":[{"x":-85,"y":23,"v":1.35},{"x":-75,"y":23,"v":1.4},{"x":-65,"y":23,"v":1.4},{"x":-55,"y":23,"v":1.4},{"x":-45,"y":23,"v":1.35},{"x":-35,"y":23,"v":1.15},{"x":-25,"y":23,"v":1},{"x":-15,"y":23,"v":0.8},{"x":-5,"y":23,"v":0.75},{"x":5,"y":23,"v":0.7},{"x":15,"y":23,"v":0.75},{"x":25,"y":23,"v":0.9},{"x":35,"y":23,"v":1.15},{"x":45,"y":23,"v":1.4},{"x":55,"y":23,"v":1.4},{"x":65,"y":23,"v":1.4},{"x":75,"y":23,"v":1.4},{"x":85,"y":23,"v":1.35},
{"x":-85,"y":21,"v":1.3},{"x":-75,"y":21,"v":1.2},{"x":-65,"y":21,"v":1.2},{"x":-55,"y":21,"v":1.3},{"x":-45,"y":21,"v":1.35},{"x":-35,"y":21,"v":1.4},{"x":-25,"y":21,"v":1.4},{"x":-15,"y":21,"v":1.4},{"x":-5,"y":21,"v":1.4},{"x":5,"y":21,"v":1.4},{"x":15,"y":21,"v":1.4},{"x":25,"y":21,"v":1.4},{"x":35,"y":21,"v":1.4},{"x":45,"y":21,"v":1.35},{"x":55,"y":21,"v":1.3},{"x":65,"y":21,"v":1.2},{"x":75,"y":21,"v":1.1},{"x":85,"y":21,"v":1.1},
{"x":-85,"y":19,"v":1.2},{"x":-75,"y":19,"v":1.05},{"x":-65,"y":19,"v":1.05},{"x":-55,"y":19,"v":1},{"x":-45,"y":19,"v":0.95},{"x":-35,"y":19,"v":0.95},{"x":-25,"y":19,"v":0.95},{"x":-15,"y":19,"v":0.95},{"x":-5,"y":19,"v":0.95},{"x":5,"y":19,"v":0.9},{"x":15,"y":19,"v":0.9},{"x":25,"y":19,"v":0.9},{"x":35,"y":19,"v":0.9},{"x":45,"y":19,"v":0.9},{"x":55,"y":19,"v":0.9},{"x":65,"y":19,"v":0.95},{"x":75,"y":19,"v":0.95},{"x":85,"y":19,"v":1.15},
{"x":-85,"y":17,"v":1.2},{"x":-75,"y":17,"v":1.05},{"x":-65,"y":17,"v":0.95},{"x":-55,"y":17,"v":0.8},{"x":-45,"y":17,"v":0.7},{"x":-35,"y":17,"v":0.6},{"x":-25,"y":17,"v":0.6},{"x":-15,"y":17,"v":0.6},{"x":-5,"y":17,"v":0.6},{"x":5,"y":17,"v":0.6},{"x":15,"y":17,"v":0.6},{"x":25,"y":17,"v":0.6},{"x":35,"y":17,"v":0.6},{"x":45,"y":17,"v":0.6},{"x":55,"y":17,"v":0.7},{"x":65,"y":17,"v":0.85},{"x":75,"y":17,"v":1},{"x":85,"y":17,"v":1.2},
{"x":-85,"y":15,"v":1.35},{"x":-75,"y":15,"v":1.25},{"x":-65,"y":15,"v":1.05},{"x":-55,"y":15,"v":0.9},{"x":-45,"y":15,"v":0.8},{"x":-35,"y":15,"v":0.7},{"x":-25,"y":15,"v":0.65},{"x":-15,"y":15,"v":0.6},{"x":-5,"y":15,"v":0.6},{"x":5,"y":15,"v":0.6},{"x":15,"y":15,"v":0.6},{"x":25,"y":15,"v":0.6},{"x":35,"y":15,"v":0.65},{"x":45,"y":15,"v":0.75},{"x":55,"y":15,"v":0.9},{"x":65,"y":15,"v":1.1},{"x":75,"y":15,"v":1.3},{"x":85,"y":15,"v":1.3},
{"x":-85,"y":13,"v":1.4},{"x":-75,"y":13,"v":1.4},{"x":-65,"y":13,"v":1.25},{"x":-55,"y":13,"v":1.15},{"x":-45,"y":13,"v":1.05},{"x":-35,"y":13,"v":1},{"x":-25,"y":13,"v":1},{"x":-15,"y":13,"v":0.95},{"x":-5,"y":13,"v":0.9},{"x":5,"y":13,"v":0.85},{"x":15,"y":13,"v":0.85},{"x":25,"y":13,"v":0.9},{"x":35,"y":13,"v":0.95},{"x":45,"y":13,"v":1},{"x":55,"y":13,"v":1.1},{"x":65,"y":13,"v":1.25},{"x":75,"y":13,"v":1.4},{"x":85,"y":13,"v":1.3},
{"x":-85,"y":11,"v":1.4},{"x":-75,"y":11,"v":1.35},{"x":-65,"y":11,"v":1.25},{"x":-55,"y":11,"v":1.1},{"x":-45,"y":11,"v":1},{"x":-35,"y":11,"v":0.9},{"x":-25,"y":11,"v":0.85},{"x":-15,"y":11,"v":0.75},{"x":-5,"y":11,"v":0.75},{"x":5,"y":11,"v":0.7},{"x":15,"y":11,"v":0.7},{"x":25,"y":11,"v":0.75},{"x":35,"y":11,"v":0.85},{"x":45,"y":11,"v":0.95},{"x":55,"y":11,"v":1.05},{"x":65,"y":11,"v":1.2},{"x":75,"y":11,"v":1.25},{"x":85,"y":11,"v":1.2},
{"x":-85,"y":9,"v":1.3},{"x":-75,"y":9,"v":1.25},{"x":-65,"y":9,"v":1.15},{"x":-55,"y":9,"v":1},{"x":-45,"y":9,"v":0.85},{"x":-35,"y":9,"v":0.75},{"x":-25,"y":9,"v":0.7},{"x":-15,"y":9,"v":0.65},{"x":-5,"y":9,"v":0.65},{"x":5,"y":9,"v":0.65},{"x":15,"y":9,"v":0.7},{"x":25,"y":9,"v":0.7},{"x":35,"y":9,"v":0.8},{"x":45,"y":9,"v":0.9},{"x":55,"y":9,"v":1.05},{"x":65,"y":9,"v":1.15},{"x":75,"y":9,"v":1.2},{"x":85,"y":9,"v":1.25},
{"x":-85,"y":7,"v":1.3},{"x":-75,"y":7,"v":1.2},{"x":-65,"y":7,"v":1.25},{"x":-55,"y":7,"v":1.3},{"x":-45,"y":7,"v":1.2},{"x":-35,"y":7,"v":1.15},{"x":-25,"y":7,"v":1.1},{"x":-15,"y":7,"v":1.05},{"x":-5,"y":7,"v":1},{"x":5,"y":7,"v":1},{"x":15,"y":7,"v":1},{"x":25,"y":7,"v":1},{"x":35,"y":7,"v":1},{"x":45,"y":7,"v":1},{"x":55,"y":7,"v":1.05},{"x":65,"y":7,"v":1.15},{"x":75,"y":7,"v":1.15},{"x":85,"y":7,"v":1.15},
{"x":-85,"y":5,"v":1.4},{"x":-75,"y":5,"v":1.3},{"x":-65,"y":5,"v":1.25},{"x":-55,"y":5,"v":1.35},{"x":-45,"y":5,"v":1.4},{"x":-35,"y":5,"v":1.4},{"x":-25,"y":5,"v":1.4},{"x":-15,"y":5,"v":1.4},{"x":-5,"y":5,"v":1.4},{"x":5,"y":5,"v":1.4},{"x":15,"y":5,"v":1.4},{"x":25,"y":5,"v":1.4},{"x":35,"y":5,"v":1.4},{"x":45,"y":5,"v":1.4},{"x":55,"y":5,"v":1.35},{"x":65,"y":5,"v":1.35},{"x":75,"y":5,"v":1.3},{"x":85,"y":5,"v":1.25},
{"x":-85,"y":3,"v":1.4},{"x":-75,"y":3,"v":1.4},{"x":-65,"y":3,"v":1.4},{"x":-55,"y":3,"v":1.4},{"x":-45,"y":3,"v":1.35},{"x":-35,"y":3,"v":1.4},{"x":-25,"y":3,"v":1.4},{"x":-15,"y":3,"v":1.4},{"x":-5,"y":3,"v":1.4},{"x":5,"y":3,"v":1.4},{"x":15,"y":3,"v":1.4},{"x":25,"y":3,"v":1.4},{"x":35,"y":3,"v":1.25},{"x":45,"y":3,"v":1.15},{"x":55,"y":3,"v":1.2},{"x":65,"y":3,"v":1.4},{"x":75,"y":3,"v":1.4},{"x":85,"y":3,"v":1.3},
{"x":-85,"y":1,"v":1.4},{"x":-75,"y":1,"v":1.4},{"x":-65,"y":1,"v":1.4},{"x":-55,"y":1,"v":1.4},{"x":-45,"y":1,"v":1.15},{"x":-35,"y":1,"v":1.05},{"x":-25,"y":1,"v":1},{"x":-15,"y":1,"v":1},{"x":-5,"y":1,"v":1},{"x":5,"y":1,"v":1},{"x":15,"y":1,"v":0.95},{"x":25,"y":1,"v":0.9},{"x":35,"y":1,"v":0.95},{"x":45,"y":1,"v":1.1},{"x":55,"y":1,"v":1.35},{"x":65,"y":1,"v":1.4},{"x":75,"y":1,"v":1.4},{"x":85,"y":1,"v":1.4}],
"c9":[{"x":-85,"y":23,"v":0.9},{"x":-75,"y":23,"v":0.9},{"x":-65,"y":23,"v":0.9},{"x":-55,"y":23,"v":0.85},{"x":-45,"y":23,"v":0.9},{"x":-35,"y":23,"v":0.9},{"x":-25,"y":23,"v":0.9},{"x":-15,"y":23,"v":0.9},{"x":-5,"y":23,"v":0.95},{"x":5,"y":23,"v":0.9},{"x":15,"y":23,"v":0.9},{"x":25,"y":23,"v":0.85},{"x":35,"y":23,"v":0.85},{"x":45,"y":23,"v":0.9},{"x":55,"y":23,"v":0.9},{"x":65,"y":23,"v":0.85},{"x":75,"y":23,"v":0.85},{"x":85,"y":23,"v":0.85},
{"x":-85,"y":21,"v":0.9},{"x":-75,"y":21,"v":0.9},{"x":-65,"y":21,"v":0.9},{"x":-55,"y":21,"v":0.95},{"x":-45,"y":21,"v":1},{"x":-35,"y":21,"v":1},{"x":-25,"y":21,"v":0.95},{"x":-15,"y":21,"v":0.9},{"x":-5,"y":21,"v":0.85},{"x":5,"y":21,"v":0.85},{"x":15,"y":21,"v":0.9},{"x":25,"y":21,"v":0.95},{"x":35,"y":21,"v":0.95},{"x":45,"y":21,"v":0.95},{"x":55,"y":21,"v":0.9},{"x":65,"y":21,"v":0.85},{"x":75,"y":21,"v":0.85},{"x":85,"y":21,"v":0.85},
{"x":-85,"y":19,"v":0.9},{"x":-75,"y":19,"v":0.9},{"x":-65,"y":19,"v":0.95},{"x":-55,"y":19,"v":1},{"x":-45,"y":19,"v":1.05},{"x":-35,"y":19,"v":1.05},{"x":-25,"y":19,"v":1.05},{"x":-15,"y":19,"v":1},{"x":-5,"y":19,"v":1},{"x":5,"y":19,"v":1},{"x":15,"y":19,"v":1},{"x":25,"y":19,"v":1},{"x":35,"y":19,"v":1},{"x":45,"y":19,"v":1},{"x":55,"y":19,"v":0.95},{"x":65,"y":19,"v":0.9},{"x":75,"y":19,"v":0.9},{"x":85,"y":19,"v":0.9},
{"x":-85,"y":17,"v":0.85},{"x":-75,"y":17,"v":0.9},{"x":-65,"y":17,"v":0.95},{"x":-55,"y":17,"v":1},{"x":-45,"y":17,"v":1.05},{"x":-35,"y":17,"v":1.05},{"x":-25,"y":17,"v":1.1},{"x":-15,"y":17,"v":1.1},{"x":-5,"y":17,"v":1.1},{"x":5,"y":17,"v":1.05},{"x":15,"y":17,"v":1.05},{"x":25,"y":17,"v":1},{"x":35,"y":17,"v":0.95},{"x":45,"y":17,"v":0.95},{"x":55,"y":17,"v":0.9},{"x":65,"y":17,"v":0.9},{"x":75,"y":17,"v":0.9},{"x":85,"y":17,"v":0.9},
{"x":-85,"y":15,"v":0.9},{"x":-75,"y":15,"v":0.95},{"x":-65,"y":15,"v":1},{"x":-55,"y":15,"v":1.05},{"x":-45,"y":15,"v":1.1},{"x":-35,"y":15,"v":1.1},{"x":-25,"y":15,"v":1.15},{"x":-15,"y":15,"v":1.15},{"x":-5,"y":15,"v":1.15},{"x":5,"y":15,"v":1.15},{"x":15,"y":15,"v":1.1},{"x":25,"y":15,"v":1.05},{"x":35,"y":15,"v":1.05},{"x":45,"y":15,"v":1},{"x":55,"y":15,"v":0.95},{"x":65,"y":15,"v":0.9},{"x":75,"y":15,"v":0.9},{"x":85,"y":15,"v":0.85},
{"x":-85,"y":13,"v":0.9},{"x":-75,"y":13,"v":0.9},{"x":-65,"y":13,"v":0.95},{"x":-55,"y":13,"v":1},{"x":-45,"y":13,"v":1.05},{"x":-35,"y":13,"v":1.1},{"x":-25,"y":13,"v":1.15},{"x":-15,"y":13,"v":1.15},{"x":-5,"y":13,"v":1.15},{"x":5,"y":13,"v":1.15},{"x":15,"y":13,"v":1.1},{"x":25,"y":13,"v":1.1},{"x":35,"y":13,"v":1.1},{"x":45,"y":13,"v":1.05},{"x":55,"y":13,"v":1.05},{"x":65,"y":13,"v":1},{"x":75,"y":13,"v":0.95},{"x":85,"y":13,"v":0.95},
{"x":-85,"y":11,"v":0.85},{"x":-75,"y":11,"v":0.9},{"x":-65,"y":11,"v":0.95},{"x":-55,"y":11,"v":1},{"x":-45,"y":11,"v":1.05},{"x":-35,"y":11,"v":1.05},{"x":-25,"y":11,"v":1.1},{"x":-15,"y":11,"v":1.1},{"x":-5,"y":11,"v":1.05},{"x":5,"y":11,"v":1.05},{"x":15,"y":11,"v":1.05},{"x":25,"y":11,"v":1.05},{"x":35,"y":11,"v":1},{"x":45,"y":11,"v":1},{"x":55,"y":11,"v":0.95},{"x":65,"y":11,"v":0.95},{"x":75,"y":11,"v":0.95},{"x":85,"y":11,"v":0.9},
{"x":-85,"y":9,"v":0.85},{"x":-75,"y":9,"v":0.85},{"x":-65,"y":9,"v":0.9},{"x":-55,"y":9,"v":0.95},{"x":-45,"y":9,"v":0.95},{"x":-35,"y":9,"v":1},{"x":-25,"y":9,"v":1.05},{"x":-15,"y":9,"v":1.05},{"x":-5,"y":9,"v":1.05},{"x":5,"y":9,"v":1.05},{"x":15,"y":9,"v":1.05},{"x":25,"y":9,"v":1},{"x":35,"y":9,"v":1},{"x":45,"y":9,"v":0.95},{"x":55,"y":9,"v":0.95},{"x":65,"y":9,"v":0.9},{"x":75,"y":9,"v":0.9},{"x":85,"y":9,"v":0.9},
{"x":-85,"y":7,"v":0.9},{"x":-75,"y":7,"v":0.9},{"x":-65,"y":7,"v":0.9},{"x":-55,"y":7,"v":0.95},{"x":-45,"y":7,"v":0.95},{"x":-35,"y":7,"v":1},{"x":-25,"y":7,"v":1},{"x":-15,"y":7,"v":1},{"x":-5,"y":7,"v":1},{"x":5,"y":7,"v":1},{"x":15,"y":7,"v":1},{"x":25,"y":7,"v":1},{"x":35,"y":7,"v":0.95},{"x":45,"y":7,"v":0.95},{"x":55,"y":7,"v":0.95},{"x":65,"y":7,"v":0.9},{"x":75,"y":7,"v":0.9},{"x":85,"y":7,"v":0.9},
{"x":-85,"y":5,"v":0.9},{"x":-75,"y":5,"v":0.9},{"x":-65,"y":5,"v":0.9},{"x":-55,"y":5,"v":0.9},{"x":-45,"y":5,"v":0.95},{"x":-35,"y":5,"v":0.95},{"x":-25,"y":5,"v":0.95},{"x":-15,"y":5,"v":0.95},{"x":-5,"y":5,"v":0.95},{"x":5,"y":5,"v":0.95},{"x":15,"y":5,"v":0.95},{"x":25,"y":5,"v":0.9},{"x":35,"y":5,"v":0.9},{"x":45,"y":5,"v":0.9},{"x":55,"y":5,"v":0.85},{"x":65,"y":5,"v":0.85},{"x":75,"y":5,"v":0.85},{"x":85,"y":5,"v":0.85},
{"x":-85,"y":3,"v":0.9},{"x":-75,"y":3,"v":0.85},{"x":-65,"y":3,"v":0.85},{"x":-55,"y":3,"v":0.9},{"x":-45,"y":3,"v":0.95},{"x":-35,"y":3,"v":1},{"x":-25,"y":3,"v":1},{"x":-15,"y":3,"v":1},{"x":-5,"y":3,"v":0.95},{"x":5,"y":3,"v":0.95},{"x":15,"y":3,"v":0.95},{"x":25,"y":3,"v":0.95},{"x":35,"y":3,"v":0.95},{"x":45,"y":3,"v":0.9},{"x":55,"y":3,"v":0.85},{"x":65,"y":3,"v":0.85},{"x":75,"y":3,"v":0.85},{"x":85,"y":3,"v":0.9},
{"x":-85,"y":1,"v":0.9},{"x":-75,"y":1,"v":0.9},{"x":-65,"y":1,"v":0.9},{"x":-55,"y":1,"v":0.9},{"x":-45,"y":1,"v":0.9},{"x":-35,"y":1,"v":1},{"x":-25,"y":1,"v":1},{"x":-15,"y":1,"v":1},{"x":-5,"y":1,"v":0.95},{"x":5,"y":1,"v":0.95},{"x":15,"y":1,"v":0.95},{"x":25,"y":1,"v":0.9},{"x":35,"y":1,"v":0.85},{"x":45,"y":1,"v":0.85},{"x":55,"y":1,"v":0.85},{"x":65,"y":1,"v":0.85},{"x":75,"y":1,"v":0.9},{"x":85,"y":1,"v":0.9}],
"c10":[{"x":-85,"y":23,"v":1},{"x":-75,"y":23,"v":1.05},{"x":-65,"y":23,"v":1},{"x":-55,"y":23,"v":1},{"x":-45,"y":23,"v":0.95},{"x":-35,"y":23,"v":0.95},{"x":-25,"y":23,"v":0.95},{"x":-15,"y":23,"v":0.95},{"x":-5,"y":23,"v":0.95},{"x":5,"y":23,"v":0.95},{"x":15,"y":23,"v":0.9},{"x":25,"y":23,"v":0.9},{"x":35,"y":23,"v":0.95},{"x":45,"y":23,"v":1},{"x":55,"y":23,"v":1},{"x":65,"y":23,"v":1},{"x":75,"y":23,"v":1.05},{"x":85,"y":23,"v":1.1},
{"x":-85,"y":21,"v":1},{"x":-75,"y":21,"v":1},{"x":-65,"y":21,"v":1},{"x":-55,"y":21,"v":0.95},{"x":-45,"y":21,"v":0.95},{"x":-35,"y":21,"v":0.95},{"x":-25,"y":21,"v":0.95},{"x":-15,"y":21,"v":0.95},{"x":-5,"y":21,"v":0.95},{"x":5,"y":21,"v":0.95},{"x":15,"y":21,"v":1},{"x":25,"y":21,"v":1},{"x":35,"y":21,"v":1.05},{"x":45,"y":21,"v":1.05},{"x":55,"y":21,"v":1.05},{"x":65,"y":21,"v":1.05},{"x":75,"y":21,"v":1.05},{"x":85,"y":21,"v":1.05},
{"x":-85,"y":19,"v":1},{"x":-75,"y":19,"v":1.05},{"x":-65,"y":19,"v":1.05},{"x":-55,"y":19,"v":1.05},{"x":-45,"y":19,"v":1.05},{"x":-35,"y":19,"v":1.05},{"x":-25,"y":19,"v":1.05},{"x":-15,"y":19,"v":1.05},{"x":-5,"y":19,"v":1.05},{"x":5,"y":19,"v":1.05},{"x":15,"y":19,"v":1.05},{"x":25,"y":19,"v":1.1},{"x":35,"y":19,"v":1.05},{"x":45,"y":19,"v":1.05},{"x":55,"y":19,"v":1.05},{"x":65,"y":19,"v":1.05},{"x":75,"y":19,"v":1.05},{"x":85,"y":19,"v":1.1},
{"x":-85,"y":17,"v":1},{"x":-75,"y":17,"v":1},{"x":-65,"y":17,"v":1},{"x":-55,"y":17,"v":1.05},{"x":-45,"y":17,"v":1.05},{"x":-35,"y":17,"v":1.05},{"x":-25,"y":17,"v":1.05},{"x":-15,"y":17,"v":1.1},{"x":-5,"y":17,"v":1.1},{"x":5,"y":17,"v":1.05},{"x":15,"y":17,"v":1.05},{"x":25,"y":17,"v":1},{"x":35,"y":17,"v":1},{"x":45,"y":17,"v":1},{"x":55,"y":17,"v":1},{"x":65,"y":17,"v":1},{"x":75,"y":17,"v":1.05},{"x":85,"y":17,"v":1.1},
{"x":-85,"y":15,"v":1},{"x":-75,"y":15,"v":1},{"x":-65,"y":15,"v":1},{"x":-55,"y":15,"v":1.05},{"x":-45,"y":15,"v":1.05},{"x":-35,"y":15,"v":1.1},{"x":-25,"y":15,"v":1.15},{"x":-15,"y":15,"v":1.2},{"x":-5,"y":15,"v":1.2},{"x":5,"y":15,"v":1.15},{"x":15,"y":15,"v":1.15},{"x":25,"y":15,"v":1.15},{"x":35,"y":15,"v":1.1},{"x":45,"y":15,"v":1.1},{"x":55,"y":15,"v":1.05},{"x":65,"y":15,"v":1.05},{"x":75,"y":15,"v":1.05},{"x":85,"y":15,"v":1.05},
{"x":-85,"y":13,"v":1.05},{"x":-75,"y":13,"v":1.1},{"x":-65,"y":13,"v":1.05},{"x":-55,"y":13,"v":1.1},{"x":-45,"y":13,"v":1.15},{"x":-35,"y":13,"v":1.2},{"x":-25,"y":13,"v":1.25},{"x":-15,"y":13,"v":1.25},{"x":-5,"y":13,"v":1.25},{"x":5,"y":13,"v":1.25},{"x":15,"y":13,"v":1.25},{"x":25,"y":13,"v":1.25},{"x":35,"y":13,"v":1.25},{"x":45,"y":13,"v":1.2},{"x":55,"y":13,"v":1.15},{"x":65,"y":13,"v":1.15},{"x":75,"y":13,"v":1.15},{"x":85,"y":13,"v":1.1},
{"x":-85,"y":11,"v":1.05},{"x":-75,"y":11,"v":1},{"x":-65,"y":11,"v":1},{"x":-55,"y":11,"v":1},{"x":-45,"y":11,"v":1},{"x":-35,"y":11,"v":1.05},{"x":-25,"y":11,"v":1.05},{"x":-15,"y":11,"v":1.05},{"x":-5,"y":11,"v":1.05},{"x":5,"y":11,"v":1.05},{"x":15,"y":11,"v":1.1},{"x":25,"y":11,"v":1.15},{"x":35,"y":11,"v":1.15},{"x":45,"y":11,"v":1.1},{"x":55,"y":11,"v":1.1},{"x":65,"y":11,"v":1.1},{"x":75,"y":11,"v":1.1},{"x":85,"y":11,"v":1.05},
{"x":-85,"y":9,"v":1},{"x":-75,"y":9,"v":0.95},{"x":-65,"y":9,"v":0.95},{"x":-55,"y":9,"v":0.9},{"x":-45,"y":9,"v":0.9},{"x":-35,"y":9,"v":0.9},{"x":-25,"y":9,"v":0.95},{"x":-15,"y":9,"v":0.95},{"x":-5,"y":9,"v":1},{"x":5,"y":9,"v":1},{"x":15,"y":9,"v":1},{"x":25,"y":9,"v":0.95},{"x":35,"y":9,"v":0.95},{"x":45,"y":9,"v":0.95},{"x":55,"y":9,"v":0.95},{"x":65,"y":9,"v":0.95},{"x":75,"y":9,"v":1},{"x":85,"y":9,"v":1},
{"x":-85,"y":7,"v":1},{"x":-75,"y":7,"v":0.95},{"x":-65,"y":7,"v":0.95},{"x":-55,"y":7,"v":0.9},{"x":-45,"y":7,"v":0.9},{"x":-35,"y":7,"v":0.9},{"x":-25,"y":7,"v":0.9},{"x":-15,"y":7,"v":0.9},{"x":-5,"y":7,"v":0.9},{"x":5,"y":7,"v":0.9},{"x":15,"y":7,"v":0.9},{"x":25,"y":7,"v":0.9},{"x":35,"y":7,"v":0.9},{"x":45,"y":7,"v":0.9},{"x":55,"y":7,"v":0.95},{"x":65,"y":7,"v":1},{"x":75,"y":7,"v":1.05},{"x":85,"y":7,"v":1.05},
{"x":-85,"y":5,"v":1},{"x":-75,"y":5,"v":0.9},{"x":-65,"y":5,"v":0.9},{"x":-55,"y":5,"v":0.9},{"x":-45,"y":5,"v":0.85},{"x":-35,"y":5,"v":0.8},{"x":-25,"y":5,"v":0.8},{"x":-15,"y":5,"v":0.8},{"x":-5,"y":5,"v":0.8},{"x":5,"y":5,"v":0.8},{"x":15,"y":5,"v":0.8},{"x":25,"y":5,"v":0.8},{"x":35,"y":5,"v":0.8},{"x":45,"y":5,"v":0.85},{"x":55,"y":5,"v":0.9},{"x":65,"y":5,"v":0.9},{"x":75,"y":5,"v":0.95},{"x":85,"y":5,"v":1},
{"x":-85,"y":3,"v":1},{"x":-75,"y":3,"v":0.95},{"x":-65,"y":3,"v":0.95},{"x":-55,"y":3,"v":0.95},{"x":-45,"y":3,"v":0.9},{"x":-35,"y":3,"v":0.9},{"x":-25,"y":3,"v":0.85},{"x":-15,"y":3,"v":0.8},{"x":-5,"y":3,"v":0.8},{"x":5,"y":3,"v":0.8},{"x":15,"y":3,"v":0.8},{"x":25,"y":3,"v":0.8},{"x":35,"y":3,"v":0.85},{"x":45,"y":3,"v":0.85},{"x":55,"y":3,"v":0.9},{"x":65,"y":3,"v":0.95},{"x":75,"y":3,"v":1},{"x":85,"y":3,"v":1.05},
{"x":-85,"y":1,"v":1.05},{"x":-75,"y":1,"v":1},{"x":-65,"y":1,"v":0.95},{"x":-55,"y":1,"v":0.95},{"x":-45,"y":1,"v":0.95},{"x":-35,"y":1,"v":0.95},{"x":-25,"y":1,"v":0.95},{"x":-15,"y":1,"v":0.9},{"x":-5,"y":1,"v":0.9},{"x":5,"y":1,"v":0.9},{"x":15,"y":1,"v":0.9},{"x":25,"y":1,"v":0.9},{"x":35,"y":1,"v":0.9},{"x":45,"y":1,"v":0.95},{"x":55,"y":1,"v":1},{"x":65,"y":1,"v":1.05},{"x":75,"y":1,"v":1.1},{"x":85,"y":1,"v":1.1}],
"c11":[{"x":-85,"y":23,"v":1},{"x":-75,"y":23,"v":1},{"x":-65,"y":23,"v":0.95},{"x":-55,"y":23,"v":0.95},{"x":-45,"y":23,"v":0.9},{"x":-35,"y":23,"v":0.9},{"x":-25,"y":23,"v":0.95},{"x":-15,"y":23,"v":0.95},{"x":-5,"y":23,"v":0.95},{"x":5,"y":23,"v":0.95},{"x":15,"y":23,"v":0.95},{"x":25,"y":23,"v":0.95},{"x":35,"y":23,"v":0.95},{"x":45,"y":23,"v":1},{"x":55,"y":23,"v":1},{"x":65,"y":23,"v":1.05},{"x":75,"y":23,"v":1.05},{"x":85,"y":23,"v":1.1},
{"x":-85,"y":21,"v":1.05},{"x":-75,"y":21,"v":1},{"x":-65,"y":21,"v":1},{"x":-55,"y":21,"v":1},{"x":-45,"y":21,"v":1},{"x":-35,"y":21,"v":1},{"x":-25,"y":21,"v":1},{"x":-15,"y":21,"v":1},{"x":-5,"y":21,"v":0.95},{"x":5,"y":21,"v":0.95},{"x":15,"y":21,"v":1},{"x":25,"y":21,"v":1},{"x":35,"y":21,"v":1.05},{"x":45,"y":21,"v":1.05},{"x":55,"y":21,"v":1},{"x":65,"y":21,"v":1},{"x":75,"y":21,"v":1.05},{"x":85,"y":21,"v":1.05},
{"x":-85,"y":19,"v":1.05},{"x":-75,"y":19,"v":1.1},{"x":-65,"y":19,"v":1.05},{"x":-55,"y":19,"v":1.05},{"x":-45,"y":19,"v":1.1},{"x":-35,"y":19,"v":1.1},{"x":-25,"y":19,"v":1.1},{"x":-15,"y":19,"v":1.1},{"x":-5,"y":19,"v":1.1},{"x":5,"y":19,"v":1.1},{"x":15,"y":19,"v":1.1},{"x":25,"y":19,"v":1.1},{"x":35,"y":19,"v":1.1},{"x":45,"y":19,"v":1.1},{"x":55,"y":19,"v":1.1},{"x":65,"y":19,"v":1.1},{"x":75,"y":19,"v":1.1},{"x":85,"y":19,"v":1.1},
{"x":-85,"y":17,"v":1.05},{"x":-75,"y":17,"v":1.05},{"x":-65,"y":17,"v":1.1},{"x":-55,"y":17,"v":1.1},{"x":-45,"y":17,"v":1.1},{"x":-35,"y":17,"v":1.1},{"x":-25,"y":17,"v":1.15},{"x":-15,"y":17,"v":1.15},{"x":-5,"y":17,"v":1.15},{"x":5,"y":17,"v":1.1},{"x":15,"y":17,"v":1.1},{"x":25,"y":17,"v":1.05},{"x":35,"y":17,"v":1.05},{"x":45,"y":17,"v":1.05},{"x":55,"y":17,"v":1.05},{"x":65,"y":17,"v":1.05},{"x":75,"y":17,"v":1.05},{"x":85,"y":17,"v":1.1},
{"x":-85,"y":15,"v":1.05},{"x":-75,"y":15,"v":1.05},{"x":-65,"y":15,"v":1.1},{"x":-55,"y":15,"v":1.1},{"x":-45,"y":15,"v":1.15},{"x":-35,"y":15,"v":1.2},{"x":-25,"y":15,"v":1.25},{"x":-15,"y":15,"v":1.25},{"x":-5,"y":15,"v":1.25},{"x":5,"y":15,"v":1.25},{"x":15,"y":15,"v":1.2},{"x":25,"y":15,"v":1.2},{"x":35,"y":15,"v":1.15},{"x":45,"y":15,"v":1.15},{"x":55,"y":15,"v":1.1},{"x":65,"y":15,"v":1.1},{"x":75,"y":15,"v":1.1},{"x":85,"y":15,"v":1.1},
{"x":-85,"y":13,"v":1.1},{"x":-75,"y":13,"v":1.05},{"x":-65,"y":13,"v":1.05},{"x":-55,"y":13,"v":1.1},{"x":-45,"y":13,"v":1.15},{"x":-35,"y":13,"v":1.15},{"x":-25,"y":13,"v":1.2},{"x":-15,"y":13,"v":1.2},{"x":-5,"y":13,"v":1.25},{"x":5,"y":13,"v":1.2},{"x":15,"y":13,"v":1.25},{"x":25,"y":13,"v":1.25},{"x":35,"y":13,"v":1.2},{"x":45,"y":13,"v":1.15},{"x":55,"y":13,"v":1.15},{"x":65,"y":13,"v":1.15},{"x":75,"y":13,"v":1.15},{"x":85,"y":13,"v":1.15},
{"x":-85,"y":11,"v":1.05},{"x":-75,"y":11,"v":1.05},{"x":-65,"y":11,"v":1.05},{"x":-55,"y":11,"v":1.05},{"x":-45,"y":11,"v":1.05},{"x":-35,"y":11,"v":1.1},{"x":-25,"y":11,"v":1.1},{"x":-15,"y":11,"v":1.1},{"x":-5,"y":11,"v":1.1},{"x":5,"y":11,"v":1.1},{"x":15,"y":11,"v":1.1},{"x":25,"y":11,"v":1.15},{"x":35,"y":11,"v":1.15},{"x":45,"y":11,"v":1.1},{"x":55,"y":11,"v":1.1},{"x":65,"y":11,"v":1.1},{"x":75,"y":11,"v":1.1},{"x":85,"y":11,"v":1.1},
{"x":-85,"y":9,"v":1},{"x":-75,"y":9,"v":1},{"x":-65,"y":9,"v":0.95},{"x":-55,"y":9,"v":0.95},{"x":-45,"y":9,"v":0.95},{"x":-35,"y":9,"v":0.95},{"x":-25,"y":9,"v":0.95},{"x":-15,"y":9,"v":0.95},{"x":-5,"y":9,"v":1},{"x":5,"y":9,"v":1},{"x":15,"y":9,"v":1},{"x":25,"y":9,"v":1},{"x":35,"y":9,"v":1},{"x":45,"y":9,"v":1},{"x":55,"y":9,"v":1},{"x":65,"y":9,"v":1.05},{"x":75,"y":9,"v":1.05},{"x":85,"y":9,"v":1.1},
{"x":-85,"y":7,"v":1.05},{"x":-75,"y":7,"v":1},{"x":-65,"y":7,"v":0.95},{"x":-55,"y":7,"v":0.95},{"x":-45,"y":7,"v":0.9},{"x":-35,"y":7,"v":0.9},{"x":-25,"y":7,"v":0.95},{"x":-15,"y":7,"v":0.95},{"x":-5,"y":7,"v":0.95},{"x":5,"y":7,"v":0.95},{"x":15,"y":7,"v":0.95},{"x":25,"y":7,"v":0.95},{"x":35,"y":7,"v":0.95},{"x":45,"y":7,"v":0.95},{"x":55,"y":7,"v":1},{"x":65,"y":7,"v":1.05},{"x":75,"y":7,"v":1.15},{"x":85,"y":7,"v":1.15},
{"x":-85,"y":5,"v":1.05},{"x":-75,"y":5,"v":1},{"x":-65,"y":5,"v":0.95},{"x":-55,"y":5,"v":0.9},{"x":-45,"y":5,"v":0.9},{"x":-35,"y":5,"v":0.85},{"x":-25,"y":5,"v":0.8},{"x":-15,"y":5,"v":0.8},{"x":-5,"y":5,"v":0.8},{"x":5,"y":5,"v":0.85},{"x":15,"y":5,"v":0.8},{"x":25,"y":5,"v":0.8},{"x":35,"y":5,"v":0.85},{"x":45,"y":5,"v":0.9},{"x":55,"y":5,"v":0.9},{"x":65,"y":5,"v":1},{"x":75,"y":5,"v":1.05},{"x":85,"y":5,"v":1.1},
{"x":-85,"y":3,"v":1.05},{"x":-75,"y":3,"v":1},{"x":-65,"y":3,"v":0.95},{"x":-55,"y":3,"v":0.95},{"x":-45,"y":3,"v":0.9},{"x":-35,"y":3,"v":0.9},{"x":-25,"y":3,"v":0.85},{"x":-15,"y":3,"v":0.85},{"x":-5,"y":3,"v":0.8},{"x":5,"y":3,"v":0.8},{"x":15,"y":3,"v":0.8},{"x":25,"y":3,"v":0.85},{"x":35,"y":3,"v":0.85},{"x":45,"y":3,"v":0.85},{"x":55,"y":3,"v":0.9},{"x":65,"y":3,"v":0.95},{"x":75,"y":3,"v":1},{"x":85,"y":3,"v":1.05},
{"x":-85,"y":1,"v":1.05},{"x":-75,"y":1,"v":1},{"x":-65,"y":1,"v":0.95},{"x":-55,"y":1,"v":0.95},{"x":-45,"y":1,"v":0.95},{"x":-35,"y":1,"v":0.9},{"x":-25,"y":1,"v":0.9},{"x":-15,"y":1,"v":0.9},{"x":-5,"y":1,"v":0.85},{"x":5,"y":1,"v":0.85},{"x":15,"y":1,"v":0.85},{"x":25,"y":1,"v":0.85},{"x":35,"y":1,"v":0.85},{"x":45,"y":1,"v":0.9},{"x":55,"y":1,"v":0.95},{"x":65,"y":1,"v":1},{"x":75,"y":1,"v":1.05},{"x":85,"y":1,"v":1.1}]},
"resolve":{"scale":{"color":"shared"}},
"hconcat":[{"title":{"text":"LT (hr)","orient":"left","anchor":"middle","font":"Liberation Sans","fontWeight":"normal","fontSize":28,"offset":6},"columns":7,"align":"each","bounds":"flush","spacing":{"row":4,"column":3},"resolve":{"scale":{"color":"shared"}},"concat":[
{"data":{"name":"t0"},"width":262,"height":34,"layer":[{"mark":{"type":"rect","width":13.6},"encoding":{"x":{"field":"x","type":"quantitative","title":null,"scale":{"domain":[-90,90],"nice":false},"axis":{"values":[-90,-60,-30,0,30,60,90],"labels":false}},"y":{"field":"v","type":"quantitative","title":null,"scale":{"domain":[0.778,1.722],"nice":false},"axis":{"values":[0.86,1,1.14,1.28,1.42],"domain":false,"labels":false}},"y2":{"datum":1},"color":{"field":"v","type":"quantitative","scale":{"type":"threshold","domain":[0.625,0.675,0.725,0.775,0.825,0.875,0.925,0.975,1.025,1.075,1.125,1.175,1.225,1.275,1.325,1.375],"range":["#00125f","#012a70","#074a87","#0f6ca3","#2f82ad","#609fc3","#92bdd5","#c5dae8","#ede8e3","#e8c9b5","#dba888","#cf8a63","#c26a3c","#b24d1c","#8f2f05","#6e1206","#590007"]}}}},{"data":{"name":"one"},"mark":{"type":"rule","color":"#ddd","strokeDash":[2,2]},"encoding":{"y":{"datum":1.3}}},{"data":{"name":"one"},"mark":"rule","encoding":{"y":{"datum":1}}},{"data":{"name":"one"},"mark":"rule","encoding":{"x":{"datum":-90},"y":{"datum":0.778},"y2":{"datum":1.47}}}]},
{"data":{"values":[]},"mark":"point","width":1,"height":1},
{"data":{"name":"t1"},"width":262,"height":34,"layer":[{"mark":{"type":"rect","width":13.6},"encoding":{"x":{"field":"x","type":"quantitative","title":null,"scale":{"domain":[-90,90],"nice":false},"axis":{"values":[-90,-60,-30,0,30,60,90],"labels":false}},"y":{"field":"v","type":"quantitative","title":null,"scale":{"domain":[0.778,1.722],"nice":false},"axis":{"values":[0.86,1,1.14,1.28,1.42],"domain":false,"labels":false}},"y2":{"datum":1},"color":{"field":"v","type":"quantitative","scale":{"type":"threshold"}}}},{"data":{"name":"one"},"mark":{"type":"rule","color":"#ddd","strokeDash":[2,2]},"encoding":{"y":{"datum":1.3}}},{"data":{"name":"one"},"mark":"rule","encoding":{"y":{"datum":1}}},{"data":{"name":"one"},"mark":"rule","encoding":{"x":{"datum":-90},"y":{"datum":0.778},"y2":{"datum":1.47}}}]},
{"data":{"values":[]},"mark":"point","width":1,"height":1},
{"data":{"name":"t2"},"width":262,"height":34,"layer":[{"mark":{"type":"rect","width":13.6},"encoding":{"x":{"field":"x","type":"quantitative","title":null,"scale":{"domain":[-90,90],"nice":false},"axis":{"values":[-90,-60,-30,0,30,60,90],"labels":false}},"y":{"field":"v","type":"quantitative","title":null,"scale":{"domain":[0.778,1.722],"nice":false},"axis":{"values":[0.86,1,1.14,1.28,1.42],"domain":false,"labels":false}},"y2":{"datum":1},"color":{"field":"v","type":"quantitative","scale":{"type":"threshold"}}}},{"data":{"name":"one"},"mark":{"type":"rule","color":"#ddd","strokeDash":[2,2]},"encoding":{"y":{"datum":1.3}}},{"data":{"name":"one"},"mark":"rule","encoding":{"y":{"datum":1}}},{"data":{"name":"one"},"mark":"rule","encoding":{"x":{"datum":-90},"y":{"datum":0.778},"y2":{"datum":1.47}}}]},
{"data":{"values":[]},"mark":"point","width":1,"height":1},
{"data":{"values":[]},"mark":"point","width":1,"height":1},
{"data":{"name":"c0"},"width":262,"height":214,"layer":[{"mark":{"type":"rect","width":14.7,"height":18},"encoding":{"x":{"field":"x","type":"quantitative","title":null,"scale":{"domain":[-90,90],"nice":false},"axis":{"values":[-90,-60,-30,0,30,60,90],"labels":false}},"y":{"field":"y","type":"quantitative","title":null,"scale":{"domain":[0,24],"nice":false},"axis":{"values":[0,6,12,18,24]}},"color":{"field":"v","type":"quantitative","scale":{"type":"threshold"}}}},{"data":{"name":"gx"},"mark":{"type":"rule","color":"#b0b0b0","strokeWidth":1.2},"encoding":{"x":{"field":"x","type":"quantitative","title":null}}},{"data":{"name":"gy"},"mark":{"type":"rule","color":"#b0b0b0","strokeWidth":1.2},"encoding":{"y":{"field":"y","type":"quantitative","title":null}}},{"data":{"name":"one"},"mark":{"type":"rect","fill":"#fff","fillOpacity":0.8,"stroke":"#777"},"encoding":{"x":{"datum":-87.2},"x2":{"datum":-20},"y":{"datum":0.1},"y2":{"datum":2.8}}},{"data":{"name":"one"},"mark":{"type":"text","text":"MSISE00"},"encoding":{"x":{"datum":-86},"y":{"datum":1.45}}},{"data":{"name":"one"},"mark":{"type":"rect","filled":false,"stroke":"#555","strokeWidth":1.2},"encoding":{"x":{"datum":-90},"x2":{"datum":90},"y":{"datum":0},"y2":{"datum":24}}}]},
{"data":{"name":"r0"},"width":46.5,"height":214,"layer":[{"mark":{"type":"rect","height":16.8},"encoding":{"x":{"field":"v","type":"quantitative","title":null,"scale":{"domain":[0.684,1.908],"nice":false},"axis":{"values":[0.79,1,1.17,1.34,1.53],"domain":false,"labels":false}},"x2":{"datum":1},"y":{"field":"y","type":"quantitative","title":null,"scale":{"domain":[0,24],"nice":false},"axis":{"values":[0,6,12,18,24],"labels":false}},"color":{"field":"v","type":"quantitative","scale":{"type":"threshold"}}}},{"data":{"name":"one"},"mark":{"type":"rule","color":"#ddd","strokeDash":[2,2]},"encoding":{"x":{"datum":1.34}}},{"data":{"name":"one"},"mark":"rule","encoding":{"x":{"datum":1}}},{"data":{"name":"one"},"mark":"rule","encoding":{"y":{"datum":0},"x":{"datum":0.684},"x2":{"datum":1.605}}}]},
{"data":{"name":"c1"},"width":262,"height":214,"layer":[{"mark":{"type":"rect","width":14.7,"height":18},"encoding":{"x":{"field":"x","type":"quantitative","title":null,"scale":{"domain":[-90,90],"nice":false},"axis":{"values":[-90,-60,-30,0,30,60,90],"labels":false}},"y":{"field":"y","type":"quantitative","title":null,"scale":{"domain":[0,24],"nice":false},"axis":{"values":[0,6,12,18,24],"labels":false}},"color":{"field":"v","type":"quantitative","scale":{"type":"threshold"}}}},{"data":{"name":"gx"},"mark":{"type":"rule","color":"#b0b0b0","strokeWidth":1.2},"encoding":{"x":{"field":"x","type":"quantitative","title":null}}},{"data":{"name":"gy"},"mark":{"type":"rule","color":"#b0b0b0","strokeWidth":1.2},"encoding":{"y":{"field":"y","type":"quantitative","title":null}}},{"data":{"name":"one"},"mark":{"type":"rect","fill":"#fff","fillOpacity":0.8,"stroke":"#777"},"encoding":{"x":{"datum":-87.2},"x2":{"datum":-29.5},"y":{"datum":0.1},"y2":{"datum":2.8}}},{"data":{"name":"one"},"mark":{"type":"text","text":"MSIS20"},"encoding":{"x":{"datum":-86},"y":{"datum":1.45}}},{"data":{"name":"one"},"mark":{"type":"rect","filled":false,"stroke":"#555","strokeWidth":1.2},"encoding":{"x":{"datum":-90},"x2":{"datum":90},"y":{"datum":0},"y2":{"datum":24}}}]},
{"data":{"name":"r1"},"width":46.5,"height":214,"layer":[{"mark":{"type":"rect","height":16.8},"encoding":{"x":{"field":"v","type":"quantitative","title":null,"scale":{"domain":[0.684,1.908],"nice":false},"axis":{"values":[0.79,1,1.17,1.34,1.53],"domain":false,"labels":false}},"x2":{"datum":1},"y":{"field":"y","type":"quantitative","title":null,"scale":{"domain":[0,24],"nice":false},"axis":{"values":[0,6,12,18,24],"labels":false}},"color":{"field":"v","type":"quantitative","scale":{"type":"threshold"}}}},{"data":{"name":"one"},"mark":{"type":"rule","color":"#ddd","strokeDash":[2,2]},"encoding":{"x":{"datum":1.34}}},{"data":{"name":"one"},"mark":"rule","encoding":{"x":{"datum":1}}},{"data":{"name":"one"},"mark":"rule","encoding":{"y":{"datum":0},"x":{"datum":0.684},"x2":{"datum":1.605}}}]},
{"data":{"name":"c2"},"width":262,"height":214,"layer":[{"mark":{"type":"rect","width":14.7,"height":18},"encoding":{"x":{"field":"x","type":"quantitative","title":null,"scale":{"domain":[-90,90],"nice":false},"axis":{"values":[-90,-60,-30,0,30,60,90],"labels":false}},"y":{"field":"y","type":"quantitative","title":null,"scale":{"domain":[0,24],"nice":false},"axis":{"values":[0,6,12,18,24],"labels":false}},"color":{"field":"v","type":"quantitative","scale":{"type":"threshold"}}}},{"data":{"name":"gx"},"mark":{"type":"rule","color":"#b0b0b0","strokeWidth":1.2},"encoding":{"x":{"field":"x","type":"quantitative","title":null}}},{"data":{"name":"gy"},"mark":{"type":"rule","color":"#b0b0b0","strokeWidth":1.2},"encoding":{"y":{"field":"y","type":"quantitative","title":null}}},{"data":{"name":"one"},"mark":{"type":"rect","fill":"#fff","fillOpacity":0.8,"stroke":"#777"},"encoding":{"x":{"datum":-87.2},"x2":{"datum":-14},"y":{"datum":0.1},"y2":{"datum":2.8}}},{"data":{"name":"one"},"mark":{"type":"text","text":"DTM2013"},"encoding":{"x":{"datum":-86},"y":{"datum":1.45}}},{"data":{"name":"one"},"mark":{"type":"rect","filled":false,"stroke":"#555","strokeWidth":1.2},"encoding":{"x":{"datum":-90},"x2":{"datum":90},"y":{"datum":0},"y2":{"datum":24}}}]},
{"data":{"name":"r2"},"width":27,"height":214,"layer":[{"mark":{"type":"rect","height":16.8},"encoding":{"x":{"field":"v","type":"quantitative","title":null,"scale":{"domain":[0.684,1.395],"nice":false},"axis":{"values":[0.79,1,1.17,1.34,1.53],"domain":false,"labels":false}},"x2":{"datum":1},"y":{"field":"y","type":"quantitative","title":null,"scale":{"domain":[0,24],"nice":false},"axis":{"values":[0,6,12,18,24],"labels":false}},"color":{"field":"v","type":"quantitative","scale":{"type":"threshold"}}}},{"data":{"name":"one"},"mark":{"type":"rule","color":"#ddd","strokeDash":[2,2]},"encoding":{"x":{"datum":1.34}}},{"data":{"name":"one"},"mark":"rule","encoding":{"x":{"datum":1}}},{"data":{"name":"one"},"mark":"rule","encoding":{"y":{"datum":0},"x":{"datum":0.684},"x2":{"datum":1.605}}}]},
{"data":{"values":[]},"mark":"point","width":1,"height":1},
{"data":{"name":"t3"},"width":262,"height":34,"layer":[{"mark":{"type":"rect","width":13.6},"encoding":{"x":{"field":"x","type":"quantitative","title":null,"scale":{"domain":[-90,90],"nice":false},"axis":{"values":[-90,-60,-30,0,30,60,90],"labels":false}},"y":{"field":"v","type":"quantitative","title":null,"scale":{"domain":[0.778,1.722],"nice":false},"axis":{"values":[0.86,1,1.14,1.28,1.42],"domain":false,"labels":false}},"y2":{"datum":1},"color":{"field":"v","type":"quantitative","scale":{"type":"threshold"}}}},{"data":{"name":"one"},"mark":{"type":"rule","color":"#ddd","strokeDash":[2,2]},"encoding":{"y":{"datum":1.3}}},{"data":{"name":"one"},"mark":"rule","encoding":{"y":{"datum":1}}},{"data":{"name":"one"},"mark":"rule","encoding":{"x":{"datum":-90},"y":{"datum":0.778},"y2":{"datum":1.47}}}]},
{"data":{"values":[]},"mark":"point","width":1,"height":1},
{"data":{"name":"t4"},"width":262,"height":34,"layer":[{"mark":{"type":"rect","width":13.6},"encoding":{"x":{"field":"x","type":"quantitative","title":null,"scale":{"domain":[-90,90],"nice":false},"axis":{"values":[-90,-60,-30,0,30,60,90],"labels":false}},"y":{"field":"v","type":"quantitative","title":null,"scale":{"domain":[0.778,1.722],"nice":false},"axis":{"values":[0.86,1,1.14,1.28,1.42],"domain":false,"labels":false}},"y2":{"datum":1},"color":{"field":"v","type":"quantitative","scale":{"type":"threshold"}}}},{"data":{"name":"one"},"mark":{"type":"rule","color":"#ddd","strokeDash":[2,2]},"encoding":{"y":{"datum":1.3}}},{"data":{"name":"one"},"mark":"rule","encoding":{"y":{"datum":1}}},{"data":{"name":"one"},"mark":"rule","encoding":{"x":{"datum":-90},"y":{"datum":0.778},"y2":{"datum":1.47}}}]},
{"data":{"values":[]},"mark":"point","width":1,"height":1},
{"data":{"name":"t5"},"width":262,"height":34,"layer":[{"mark":{"type":"rect","width":13.6},"encoding":{"x":{"field":"x","type":"quantitative","title":null,"scale":{"domain":[-90,90],"nice":false},"axis":{"values":[-90,-60,-30,0,30,60,90],"labels":false}},"y":{"field":"v","type":"quantitative","title":null,"scale":{"domain":[0.778,1.722],"nice":false},"axis":{"values":[0.86,1,1.14,1.28,1.42],"domain":false,"labels":false}},"y2":{"datum":1},"color":{"field":"v","type":"quantitative","scale":{"type":"threshold"}}}},{"data":{"name":"one"},"mark":{"type":"rule","color":"#ddd","strokeDash":[2,2]},"encoding":{"y":{"datum":1.3}}},{"data":{"name":"one"},"mark":"rule","encoding":{"y":{"datum":1}}},{"data":{"name":"one"},"mark":"rule","encoding":{"x":{"datum":-90},"y":{"datum":0.778},"y2":{"datum":1.47}}}]},
{"data":{"values":[]},"mark":"point","width":1,"height":1},
{"data":{"values":[]},"mark":"point","width":1,"height":1},
{"data":{"name":"c3"},"width":262,"height":214,"layer":[{"mark":{"type":"rect","width":14.7,"height":18},"encoding":{"x":{"field":"x","type":"quantitative","title":null,"scale":{"domain":[-90,90],"nice":false},"axis":{"values":[-90,-60,-30,0,30,60,90],"labels":false}},"y":{"field":"y","type":"quantitative","title":null,"scale":{"domain":[0,24],"nice":false},"axis":{"values":[0,6,12,18,24]}},"color":{"field":"v","type":"quantitative","scale":{"type":"threshold"}}}},{"data":{"name":"gx"},"mark":{"type":"rule","color":"#b0b0b0","strokeWidth":1.2},"encoding":{"x":{"field":"x","type":"quantitative","title":null}}},{"data":{"name":"gy"},"mark":{"type":"rule","color":"#b0b0b0","strokeWidth":1.2},"encoding":{"y":{"field":"y","type":"quantitative","title":null}}},{"data":{"name":"one"},"mark":{"type":"rect","fill":"#fff","fillOpacity":0.8,"stroke":"#777"},"encoding":{"x":{"datum":-87.2},"x2":{"datum":-16},"y":{"datum":0.1},"y2":{"datum":2.8}}},{"data":{"name":"one"},"mark":{"type":"text","text":"DTM2020"},"encoding":{"x":{"datum":-86},"y":{"datum":1.45}}},{"data":{"name":"one"},"mark":{"type":"rect","filled":false,"stroke":"#555","strokeWidth":1.2},"encoding":{"x":{"datum":-90},"x2":{"datum":90},"y":{"datum":0},"y2":{"datum":24}}}]},
{"data":{"name":"r3"},"width":46.5,"height":214,"layer":[{"mark":{"type":"rect","height":16.8},"encoding":{"x":{"field":"v","type":"quantitative","title":null,"scale":{"domain":[0.684,1.908],"nice":false},"axis":{"values":[0.79,1,1.17,1.34,1.53],"domain":false,"labels":false}},"x2":{"datum":1},"y":{"field":"y","type":"quantitative","title":null,"scale":{"domain":[0,24],"nice":false},"axis":{"values":[0,6,12,18,24],"labels":false}},"color":{"field":"v","type":"quantitative","scale":{"type":"threshold"}}}},{"data":{"name":"one"},"mark":{"type":"rule","color":"#ddd","strokeDash":[2,2]},"encoding":{"x":{"datum":1.34}}},{"data":{"name":"one"},"mark":"rule","encoding":{"x":{"datum":1}}},{"data":{"name":"one"},"mark":"rule","encoding":{"y":{"datum":0},"x":{"datum":0.684},"x2":{"datum":1.605}}}]},
{"data":{"name":"c4"},"width":262,"height":214,"layer":[{"mark":{"type":"rect","width":14.7,"height":18},"encoding":{"x":{"field":"x","type":"quantitative","title":null,"scale":{"domain":[-90,90],"nice":false},"axis":{"values":[-90,-60,-30,0,30,60,90],"labels":false}},"y":{"field":"y","type":"quantitative","title":null,"scale":{"domain":[0,24],"nice":false},"axis":{"values":[0,6,12,18,24],"labels":false}},"color":{"field":"v","type":"quantitative","scale":{"type":"threshold"}}}},{"data":{"name":"gx"},"mark":{"type":"rule","color":"#b0b0b0","strokeWidth":1.2},"encoding":{"x":{"field":"x","type":"quantitative","title":null}}},{"data":{"name":"gy"},"mark":{"type":"rule","color":"#b0b0b0","strokeWidth":1.2},"encoding":{"y":{"field":"y","type":"quantitative","title":null}}},{"data":{"name":"one"},"mark":{"type":"rect","fill":"#fff","fillOpacity":0.8,"stroke":"#777"},"encoding":{"x":{"datum":-87.2},"x2":{"datum":-32},"y":{"datum":0.1},"y2":{"datum":2.8}}},{"data":{"name":"one"},"mark":{"type":"text","text":"JB2008"},"encoding":{"x":{"datum":-86},"y":{"datum":1.45}}},{"data":{"name":"one"},"mark":{"type":"rect","filled":false,"stroke":"#555","strokeWidth":1.2},"encoding":{"x":{"datum":-90},"x2":{"datum":90},"y":{"datum":0},"y2":{"datum":24}}}]},
{"data":{"name":"r4"},"width":46.5,"height":214,"layer":[{"mark":{"type":"rect","height":16.8},"encoding":{"x":{"field":"v","type":"quantitative","title":null,"scale":{"domain":[0.684,1.908],"nice":false},"axis":{"values":[0.79,1,1.17,1.34,1.53],"domain":false,"labels":false}},"x2":{"datum":1},"y":{"field":"y","type":"quantitative","title":null,"scale":{"domain":[0,24],"nice":false},"axis":{"values":[0,6,12,18,24],"labels":false}},"color":{"field":"v","type":"quantitative","scale":{"type":"threshold"}}}},{"data":{"name":"one"},"mark":{"type":"rule","color":"#ddd","strokeDash":[2,2]},"encoding":{"x":{"datum":1.34}}},{"data":{"name":"one"},"mark":"rule","encoding":{"x":{"datum":1}}},{"data":{"name":"one"},"mark":"rule","encoding":{"y":{"datum":0},"x":{"datum":0.684},"x2":{"datum":1.605}}}]},
{"data":{"name":"c5"},"width":262,"height":214,"layer":[{"mark":{"type":"rect","width":14.7,"height":18},"encoding":{"x":{"field":"x","type":"quantitative","title":null,"scale":{"domain":[-90,90],"nice":false},"axis":{"values":[-90,-60,-30,0,30,60,90],"labels":false}},"y":{"field":"y","type":"quantitative","title":null,"scale":{"domain":[0,24],"nice":false},"axis":{"values":[0,6,12,18,24],"labels":false}},"color":{"field":"v","type":"quantitative","scale":{"type":"threshold"}}}},{"data":{"name":"gx"},"mark":{"type":"rule","color":"#b0b0b0","strokeWidth":1.2},"encoding":{"x":{"field":"x","type":"quantitative","title":null}}},{"data":{"name":"gy"},"mark":{"type":"rule","color":"#b0b0b0","strokeWidth":1.2},"encoding":{"y":{"field":"y","type":"quantitative","title":null}}},{"data":{"name":"one"},"mark":{"type":"rect","fill":"#fff","fillOpacity":0.8,"stroke":"#777"},"encoding":{"x":{"datum":-87.2},"x2":{"datum":-25},"y":{"datum":0.1},"y2":{"datum":2.8}}},{"data":{"name":"one"},"mark":{"type":"text","text":"WAMIPE"},"encoding":{"x":{"datum":-86},"y":{"datum":1.45}}},{"data":{"name":"one"},"mark":{"type":"rect","filled":false,"stroke":"#555","strokeWidth":1.2},"encoding":{"x":{"datum":-90},"x2":{"datum":90},"y":{"datum":0},"y2":{"datum":24}}}]},
{"data":{"name":"r5"},"width":27,"height":214,"layer":[{"mark":{"type":"rect","height":16.8},"encoding":{"x":{"field":"v","type":"quantitative","title":null,"scale":{"domain":[0.684,1.395],"nice":false},"axis":{"values":[0.79,1,1.17,1.34,1.53],"domain":false,"labels":false}},"x2":{"datum":1},"y":{"field":"y","type":"quantitative","title":null,"scale":{"domain":[0,24],"nice":false},"axis":{"values":[0,6,12,18,24],"labels":false}},"color":{"field":"v","type":"quantitative","scale":{"type":"threshold"}}}},{"data":{"name":"one"},"mark":{"type":"rule","color":"#ddd","strokeDash":[2,2]},"encoding":{"x":{"datum":1.34}}},{"data":{"name":"one"},"mark":"rule","encoding":{"x":{"datum":1}}},{"data":{"name":"one"},"mark":"rule","encoding":{"y":{"datum":0},"x":{"datum":0.684},"x2":{"datum":1.605}}}]},
{"data":{"name":"cb"},"width":12,"height":214,"layer":[{"mark":{"type":"rect","height":20.6},"encoding":{"x":{"datum":0,"scale":{"domain":[0,1]},"axis":null},"x2":{"datum":1},"y":{"field":"v","type":"quantitative","scale":{"domain":[1.0345,1.559],"nice":false},"title":"Debiased mean observed-to-modeled ratio (𝜇(𝑜/𝑚))","axis":{"orient":"right","values":[1.2,1.4],"format":".1f","domain":false,"titleFontSize":20.9,"titlePadding":1,"titleAngle":270,"titleBaseline":"top","titleY":233}},"color":{"field":"v","type":"quantitative","scale":{"type":"threshold"}}}},{"data":{"name":"one"},"mark":{"type":"point","shape":"M-0.66,1L0.66,1L0,-1Z","filled":true,"opacity":1,"size":324,"color":"#590007"},"encoding":{"x":{"datum":0.5},"y":{"datum":1.447}}},{"data":{"name":"one"},"mark":{"type":"point","shape":"M-0.66,-1L0.66,-1L0,1Z","filled":true,"opacity":1,"size":324,"color":"#00125f"},"encoding":{"x":{"datum":0.5},"y":{"datum":0.553}}},{"data":{"name":"one"},"mark":{"type":"rect","filled":false,"stroke":"#555"},"encoding":{"x":{"datum":0},"x2":{"datum":1},"y":{"datum":0.575},"y2":{"datum":1.425}}},{"data":{"name":"cbt"},"mark":{"type":"rule","color":"#444"},"encoding":{"x":{"datum":1},"x2":{"datum":1.33},"y":{"field":"v","type":"quantitative","title":"Debiased mean observed-to-modeled ratio (𝜇(𝑜/𝑚))"}}},{"data":{"name":"cbt"},"mark":{"type":"text","font":"Liberation Sans","fontSize":18.5,"dx":6},"encoding":{"x":{"datum":1},"y":{"field":"v","type":"quantitative","title":"Debiased mean observed-to-modeled ratio (𝜇(𝑜/𝑚))"},"text":{"field":"v","type":"quantitative","format":".1f"}}}]},
{"data":{"name":"t6"},"width":262,"height":34,"layer":[{"mark":{"type":"rect","width":13.6},"encoding":{"x":{"field":"x","type":"quantitative","title":null,"scale":{"domain":[-90,90],"nice":false},"axis":{"values":[-90,-60,-30,0,30,60,90],"labels":false}},"y":{"field":"v","type":"quantitative","title":null,"scale":{"domain":[0.778,1.722],"nice":false},"axis":{"values":[0.86,1,1.14,1.28,1.42],"domain":false,"labels":false}},"y2":{"datum":1},"color":{"field":"v","type":"quantitative","scale":{"type":"threshold"}}}},{"data":{"name":"one"},"mark":{"type":"rule","color":"#ddd","strokeDash":[2,2]},"encoding":{"y":{"datum":1.3}}},{"data":{"name":"one"},"mark":"rule","encoding":{"y":{"datum":1}}},{"data":{"name":"one"},"mark":"rule","encoding":{"x":{"datum":-90},"y":{"datum":0.778},"y2":{"datum":1.47}}}]},
{"data":{"values":[]},"mark":"point","width":1,"height":1},
{"data":{"name":"t7"},"width":262,"height":34,"layer":[{"mark":{"type":"rect","width":13.6},"encoding":{"x":{"field":"x","type":"quantitative","title":null,"scale":{"domain":[-90,90],"nice":false},"axis":{"values":[-90,-60,-30,0,30,60,90],"labels":false}},"y":{"field":"v","type":"quantitative","title":null,"scale":{"domain":[0.778,1.722],"nice":false},"axis":{"values":[0.86,1,1.14,1.28,1.42],"domain":false,"labels":false}},"y2":{"datum":1},"color":{"field":"v","type":"quantitative","scale":{"type":"threshold"}}}},{"data":{"name":"one"},"mark":{"type":"rule","color":"#ddd","strokeDash":[2,2]},"encoding":{"y":{"datum":1.3}}},{"data":{"name":"one"},"mark":"rule","encoding":{"y":{"datum":1}}},{"data":{"name":"one"},"mark":"rule","encoding":{"x":{"datum":-90},"y":{"datum":0.778},"y2":{"datum":1.47}}}]},
{"data":{"values":[]},"mark":"point","width":1,"height":1},
{"data":{"name":"t8"},"width":262,"height":34,"layer":[{"mark":{"type":"rect","width":13.6},"encoding":{"x":{"field":"x","type":"quantitative","title":null,"scale":{"domain":[-90,90],"nice":false},"axis":{"values":[-90,-60,-30,0,30,60,90],"labels":false}},"y":{"field":"v","type":"quantitative","title":null,"scale":{"domain":[0.778,1.722],"nice":false},"axis":{"values":[0.86,1,1.14,1.28,1.42],"domain":false,"labels":false}},"y2":{"datum":1},"color":{"field":"v","type":"quantitative","scale":{"type":"threshold"}}}},{"data":{"name":"one"},"mark":{"type":"rule","color":"#ddd","strokeDash":[2,2]},"encoding":{"y":{"datum":1.3}}},{"data":{"name":"one"},"mark":"rule","encoding":{"y":{"datum":1}}},{"data":{"name":"one"},"mark":"rule","encoding":{"x":{"datum":-90},"y":{"datum":0.778},"y2":{"datum":1.47}}}]},
{"data":{"values":[]},"mark":"point","width":1,"height":1},
{"data":{"values":[]},"mark":"point","width":1,"height":1},
{"data":{"name":"c6"},"width":262,"height":214,"layer":[{"mark":{"type":"rect","width":14.7,"height":18},"encoding":{"x":{"field":"x","type":"quantitative","title":null,"scale":{"domain":[-90,90],"nice":false},"axis":{"values":[-90,-60,-30,0,30,60,90],"labels":false}},"y":{"field":"y","type":"quantitative","title":null,"scale":{"domain":[0,24],"nice":false},"axis":{"values":[0,6,12,18,24]}},"color":{"field":"v","type":"quantitative","scale":{"type":"threshold"}}}},{"data":{"name":"gx"},"mark":{"type":"rule","color":"#b0b0b0","strokeWidth":1.2},"encoding":{"x":{"field":"x","type":"quantitative","title":null}}},{"data":{"name":"gy"},"mark":{"type":"rule","color":"#b0b0b0","strokeWidth":1.2},"encoding":{"y":{"field":"y","type":"quantitative","title":null}}},{"data":{"name":"one"},"mark":{"type":"rect","fill":"#fff","fillOpacity":0.8,"stroke":"#777"},"encoding":{"x":{"datum":-87.2},"x2":{"datum":34},"y":{"datum":0.1},"y2":{"datum":2.8}}},{"data":{"name":"one"},"mark":{"type":"text","text":"WACCMX-Heelis"},"encoding":{"x":{"datum":-86},"y":{"datum":1.45}}},{"data":{"name":"one"},"mark":{"type":"rect","filled":false,"stroke":"#555","strokeWidth":1.2},"encoding":{"x":{"datum":-90},"x2":{"datum":90},"y":{"datum":0},"y2":{"datum":24}}}]},
{"data":{"name":"r6"},"width":46.5,"height":214,"layer":[{"mark":{"type":"rect","height":16.8},"encoding":{"x":{"field":"v","type":"quantitative","title":null,"scale":{"domain":[0.684,1.908],"nice":false},"axis":{"values":[0.79,1,1.17,1.34,1.53],"domain":false,"labels":false}},"x2":{"datum":1},"y":{"field":"y","type":"quantitative","title":null,"scale":{"domain":[0,24],"nice":false},"axis":{"values":[0,6,12,18,24],"labels":false}},"color":{"field":"v","type":"quantitative","scale":{"type":"threshold"}}}},{"data":{"name":"one"},"mark":{"type":"rule","color":"#ddd","strokeDash":[2,2]},"encoding":{"x":{"datum":1.34}}},{"data":{"name":"one"},"mark":"rule","encoding":{"x":{"datum":1}}},{"data":{"name":"one"},"mark":"rule","encoding":{"y":{"datum":0},"x":{"datum":0.684},"x2":{"datum":1.605}}}]},
{"data":{"name":"c7"},"width":262,"height":214,"layer":[{"mark":{"type":"rect","width":14.7,"height":18},"encoding":{"x":{"field":"x","type":"quantitative","title":null,"scale":{"domain":[-90,90],"nice":false},"axis":{"values":[-90,-60,-30,0,30,60,90],"labels":false}},"y":{"field":"y","type":"quantitative","title":null,"scale":{"domain":[0,24],"nice":false},"axis":{"values":[0,6,12,18,24],"labels":false}},"color":{"field":"v","type":"quantitative","scale":{"type":"threshold"}}}},{"data":{"name":"gx"},"mark":{"type":"rule","color":"#b0b0b0","strokeWidth":1.2},"encoding":{"x":{"field":"x","type":"quantitative","title":null}}},{"data":{"name":"gy"},"mark":{"type":"rule","color":"#b0b0b0","strokeWidth":1.2},"encoding":{"y":{"field":"y","type":"quantitative","title":null}}},{"data":{"name":"one"},"mark":{"type":"rect","fill":"#fff","fillOpacity":0.8,"stroke":"#777"},"encoding":{"x":{"datum":-87.2},"x2":{"datum":45},"y":{"datum":0.1},"y2":{"datum":2.8}}},{"data":{"name":"one"},"mark":{"type":"text","text":"WACCMX-Weimer"},"encoding":{"x":{"datum":-86},"y":{"datum":1.45}}},{"data":{"name":"one"},"mark":{"type":"rect","filled":false,"stroke":"#555","strokeWidth":1.2},"encoding":{"x":{"datum":-90},"x2":{"datum":90},"y":{"datum":0},"y2":{"datum":24}}}]},
{"data":{"name":"r7"},"width":46.5,"height":214,"layer":[{"mark":{"type":"rect","height":16.8},"encoding":{"x":{"field":"v","type":"quantitative","title":null,"scale":{"domain":[0.684,1.908],"nice":false},"axis":{"values":[0.79,1,1.17,1.34,1.53],"domain":false,"labels":false}},"x2":{"datum":1},"y":{"field":"y","type":"quantitative","title":null,"scale":{"domain":[0,24],"nice":false},"axis":{"values":[0,6,12,18,24],"labels":false}},"color":{"field":"v","type":"quantitative","scale":{"type":"threshold"}}}},{"data":{"name":"one"},"mark":{"type":"rule","color":"#ddd","strokeDash":[2,2]},"encoding":{"x":{"datum":1.34}}},{"data":{"name":"one"},"mark":"rule","encoding":{"x":{"datum":1}}},{"data":{"name":"one"},"mark":"rule","encoding":{"y":{"datum":0},"x":{"datum":0.684},"x2":{"datum":1.605}}}]},
{"data":{"name":"c8"},"width":262,"height":214,"layer":[{"mark":{"type":"rect","width":14.7,"height":18},"encoding":{"x":{"field":"x","type":"quantitative","title":null,"scale":{"domain":[-90,90],"nice":false},"axis":{"values":[-90,-60,-30,0,30,60,90],"labels":false}},"y":{"field":"y","type":"quantitative","title":null,"scale":{"domain":[0,24],"nice":false},"axis":{"values":[0,6,12,18,24],"labels":false}},"color":{"field":"v","type":"quantitative","scale":{"type":"threshold"}}}},{"data":{"name":"gx"},"mark":{"type":"rule","color":"#b0b0b0","strokeWidth":1.2},"encoding":{"x":{"field":"x","type":"quantitative","title":null}}},{"data":{"name":"gy"},"mark":{"type":"rule","color":"#b0b0b0","strokeWidth":1.2},"encoding":{"y":{"field":"y","type":"quantitative","title":null}}},{"data":{"name":"one"},"mark":{"type":"rect","fill":"#fff","fillOpacity":0.8,"stroke":"#777"},"encoding":{"x":{"datum":-87.2},"x2":{"datum":-47},"y":{"datum":0.1},"y2":{"datum":2.8}}},{"data":{"name":"one"},"mark":{"type":"text","text":"GITM"},"encoding":{"x":{"datum":-86},"y":{"datum":1.45}}},{"data":{"name":"one"},"mark":{"type":"rect","filled":false,"stroke":"#555","strokeWidth":1.2},"encoding":{"x":{"datum":-90},"x2":{"datum":90},"y":{"datum":0},"y2":{"datum":24}}}]},
{"data":{"name":"r8"},"width":27,"height":214,"layer":[{"mark":{"type":"rect","height":16.8},"encoding":{"x":{"field":"v","type":"quantitative","title":null,"scale":{"domain":[0.684,1.395],"nice":false},"axis":{"values":[0.79,1,1.17,1.34,1.53],"domain":false,"labels":false}},"x2":{"datum":1},"y":{"field":"y","type":"quantitative","title":null,"scale":{"domain":[0,24],"nice":false},"axis":{"values":[0,6,12,18,24],"labels":false}},"color":{"field":"v","type":"quantitative","scale":{"type":"threshold"}}}},{"data":{"name":"one"},"mark":{"type":"rule","color":"#ddd","strokeDash":[2,2]},"encoding":{"x":{"datum":1.34}}},{"data":{"name":"one"},"mark":"rule","encoding":{"x":{"datum":1}}},{"data":{"name":"one"},"mark":"rule","encoding":{"y":{"datum":0},"x":{"datum":0.684},"x2":{"datum":1.605}}}]},
{"data":{"values":[]},"mark":"point","width":1,"height":1},
{"data":{"name":"t9"},"width":262,"height":34,"layer":[{"mark":{"type":"rect","width":13.6},"encoding":{"x":{"field":"x","type":"quantitative","title":null,"scale":{"domain":[-90,90],"nice":false},"axis":{"values":[-90,-60,-30,0,30,60,90],"labels":false}},"y":{"field":"v","type":"quantitative","title":null,"scale":{"domain":[0.778,1.722],"nice":false},"axis":{"values":[0.86,1,1.14,1.28,1.42],"domain":false,"labels":false}},"y2":{"datum":1},"color":{"field":"v","type":"quantitative","scale":{"type":"threshold"}}}},{"data":{"name":"one"},"mark":{"type":"rule","color":"#ddd","strokeDash":[2,2]},"encoding":{"y":{"datum":1.3}}},{"data":{"name":"one"},"mark":"rule","encoding":{"y":{"datum":1}}},{"data":{"name":"one"},"mark":"rule","encoding":{"x":{"datum":-90},"y":{"datum":0.778},"y2":{"datum":1.47}}}]},
{"data":{"values":[]},"mark":"point","width":1,"height":1},
{"data":{"name":"t10"},"width":262,"height":34,"layer":[{"mark":{"type":"rect","width":13.6},"encoding":{"x":{"field":"x","type":"quantitative","title":null,"scale":{"domain":[-90,90],"nice":false},"axis":{"values":[-90,-60,-30,0,30,60,90],"labels":false}},"y":{"field":"v","type":"quantitative","title":null,"scale":{"domain":[0.778,1.722],"nice":false},"axis":{"values":[0.86,1,1.14,1.28,1.42],"domain":false,"labels":false}},"y2":{"datum":1},"color":{"field":"v","type":"quantitative","scale":{"type":"threshold"}}}},{"data":{"name":"one"},"mark":{"type":"rule","color":"#ddd","strokeDash":[2,2]},"encoding":{"y":{"datum":1.3}}},{"data":{"name":"one"},"mark":"rule","encoding":{"y":{"datum":1}}},{"data":{"name":"one"},"mark":"rule","encoding":{"x":{"datum":-90},"y":{"datum":0.778},"y2":{"datum":1.47}}}]},
{"data":{"values":[]},"mark":"point","width":1,"height":1},
{"data":{"name":"t11"},"width":262,"height":34,"layer":[{"mark":{"type":"rect","width":13.6},"encoding":{"x":{"field":"x","type":"quantitative","title":null,"scale":{"domain":[-90,90],"nice":false},"axis":{"values":[-90,-60,-30,0,30,60,90],"labels":false}},"y":{"field":"v","type":"quantitative","title":null,"scale":{"domain":[0.778,1.722],"nice":false},"axis":{"values":[0.86,1,1.14,1.28,1.42],"domain":false,"labels":false}},"y2":{"datum":1},"color":{"field":"v","type":"quantitative","scale":{"type":"threshold"}}}},{"data":{"name":"one"},"mark":{"type":"rule","color":"#ddd","strokeDash":[2,2]},"encoding":{"y":{"datum":1.3}}},{"data":{"name":"one"},"mark":"rule","encoding":{"y":{"datum":1}}},{"data":{"name":"one"},"mark":"rule","encoding":{"x":{"datum":-90},"y":{"datum":0.778},"y2":{"datum":1.47}}}]},
{"data":{"values":[]},"mark":"point","width":1,"height":1},
{"data":{"values":[]},"mark":"point","width":1,"height":1},
{"data":{"name":"c9"},"width":262,"height":214,"layer":[{"mark":{"type":"rect","width":14.7,"height":18},"encoding":{"x":{"field":"x","type":"quantitative","title":null,"scale":{"domain":[-90,90],"nice":false},"axis":{"values":[-90,-60,-30,0,30,60,90]}},"y":{"field":"y","type":"quantitative","title":null,"scale":{"domain":[0,24],"nice":false},"axis":{"values":[0,6,12,18,24]}},"color":{"field":"v","type":"quantitative","scale":{"type":"threshold"}}}},{"data":{"name":"gx"},"mark":{"type":"rule","color":"#b0b0b0","strokeWidth":1.2},"encoding":{"x":{"field":"x","type":"quantitative","title":null}}},{"data":{"name":"gy"},"mark":{"type":"rule","color":"#b0b0b0","strokeWidth":1.2},"encoding":{"y":{"field":"y","type":"quantitative","title":null}}},{"data":{"name":"one"},"mark":{"type":"rect","fill":"#fff","fillOpacity":0.8,"stroke":"#777"},"encoding":{"x":{"datum":-87.2},"x2":{"datum":-43},"y":{"datum":0.1},"y2":{"datum":2.8}}},{"data":{"name":"one"},"mark":{"type":"text","text":"CTIPe"},"encoding":{"x":{"datum":-86},"y":{"datum":1.45}}},{"data":{"name":"one"},"mark":{"type":"rect","filled":false,"stroke":"#555","strokeWidth":1.2},"encoding":{"x":{"datum":-90},"x2":{"datum":90},"y":{"datum":0},"y2":{"datum":24}}}]},
{"data":{"name":"r9"},"width":46.5,"height":214,"layer":[{"mark":{"type":"rect","height":16.8},"encoding":{"x":{"field":"v","type":"quantitative","title":null,"scale":{"domain":[0.684,1.908],"nice":false},"axis":{"values":[0.79,1,1.17,1.34,1.53],"domain":false,"labels":false}},"x2":{"datum":1},"y":{"field":"y","type":"quantitative","title":null,"scale":{"domain":[0,24],"nice":false},"axis":{"values":[0,6,12,18,24],"labels":false}},"color":{"field":"v","type":"quantitative","scale":{"type":"threshold"}}}},{"data":{"name":"one"},"mark":{"type":"rule","color":"#ddd","strokeDash":[2,2]},"encoding":{"x":{"datum":1.34}}},{"data":{"name":"one"},"mark":"rule","encoding":{"x":{"datum":1}}},{"data":{"name":"one"},"mark":"rule","encoding":{"y":{"datum":0},"x":{"datum":0.684},"x2":{"datum":1.605}}}]},
{"data":{"name":"c10"},"width":262,"height":214,"layer":[{"mark":{"type":"rect","width":14.7,"height":18},"encoding":{"x":{"field":"x","type":"quantitative","title":"Latitude (deg.)","scale":{"domain":[-90,90],"nice":false},"axis":{"values":[-90,-60,-30,0,30,60,90],"titlePadding":2}},"y":{"field":"y","type":"quantitative","title":null,"scale":{"domain":[0,24],"nice":false},"axis":{"values":[0,6,12,18,24],"labels":false}},"color":{"field":"v","type":"quantitative","scale":{"type":"threshold"}}}},{"data":{"name":"gx"},"mark":{"type":"rule","color":"#b0b0b0","strokeWidth":1.2},"encoding":{"x":{"field":"x","type":"quantitative","title":"Latitude (deg.)"}}},{"data":{"name":"gy"},"mark":{"type":"rule","color":"#b0b0b0","strokeWidth":1.2},"encoding":{"y":{"field":"y","type":"quantitative","title":null}}},{"data":{"name":"one"},"mark":{"type":"rect","fill":"#fff","fillOpacity":0.8,"stroke":"#777"},"encoding":{"x":{"datum":-87.2},"x2":{"datum":25},"y":{"datum":0.1},"y2":{"datum":2.8}}},{"data":{"name":"one"},"mark":{"type":"text","text":"TIEGCM-Heelis"},"encoding":{"x":{"datum":-86},"y":{"datum":1.45}}},{"data":{"name":"one"},"mark":{"type":"rect","filled":false,"stroke":"#555","strokeWidth":1.2},"encoding":{"x":{"datum":-90},"x2":{"datum":90},"y":{"datum":0},"y2":{"datum":24}}}]},
{"data":{"name":"r10"},"width":46.5,"height":214,"layer":[{"mark":{"type":"rect","height":16.8},"encoding":{"x":{"field":"v","type":"quantitative","title":null,"scale":{"domain":[0.684,1.908],"nice":false},"axis":{"values":[0.79,1,1.17,1.34,1.53],"domain":false,"labels":false}},"x2":{"datum":1},"y":{"field":"y","type":"quantitative","title":null,"scale":{"domain":[0,24],"nice":false},"axis":{"values":[0,6,12,18,24],"labels":false}},"color":{"field":"v","type":"quantitative","scale":{"type":"threshold"}}}},{"data":{"name":"one"},"mark":{"type":"rule","color":"#ddd","strokeDash":[2,2]},"encoding":{"x":{"datum":1.34}}},{"data":{"name":"one"},"mark":"rule","encoding":{"x":{"datum":1}}},{"data":{"name":"one"},"mark":"rule","encoding":{"y":{"datum":0},"x":{"datum":0.684},"x2":{"datum":1.605}}}]},
{"data":{"name":"c11"},"width":262,"height":214,"layer":[{"mark":{"type":"rect","width":14.7,"height":18},"encoding":{"x":{"field":"x","type":"quantitative","title":null,"scale":{"domain":[-90,90],"nice":false},"axis":{"values":[-90,-60,-30,0,30,60,90]}},"y":{"field":"y","type":"quantitative","title":null,"scale":{"domain":[0,24],"nice":false},"axis":{"values":[0,6,12,18,24],"labels":false}},"color":{"field":"v","type":"quantitative","scale":{"type":"threshold"}}}},{"data":{"name":"gx"},"mark":{"type":"rule","color":"#b0b0b0","strokeWidth":1.2},"encoding":{"x":{"field":"x","type":"quantitative","title":null}}},{"data":{"name":"gy"},"mark":{"type":"rule","color":"#b0b0b0","strokeWidth":1.2},"encoding":{"y":{"field":"y","type":"quantitative","title":null}}},{"data":{"name":"one"},"mark":{"type":"rect","fill":"#fff","fillOpacity":0.8,"stroke":"#777"},"encoding":{"x":{"datum":-87.2},"x2":{"datum":36},"y":{"datum":0.1},"y2":{"datum":2.8}}},{"data":{"name":"one"},"mark":{"type":"text","text":"TIEGCM-Weimer"},"encoding":{"x":{"datum":-86},"y":{"datum":1.45}}},{"data":{"name":"one"},"mark":{"type":"rect","filled":false,"stroke":"#555","strokeWidth":1.2},"encoding":{"x":{"datum":-90},"x2":{"datum":90},"y":{"datum":0},"y2":{"datum":24}}}]},
{"data":{"name":"r11"},"width":27,"height":214,"layer":[{"mark":{"type":"rect","height":16.8},"encoding":{"x":{"field":"v","type":"quantitative","title":null,"scale":{"domain":[0.684,1.395],"nice":false},"axis":{"values":[0.79,1,1.17,1.34,1.53],"domain":false,"labels":false}},"x2":{"datum":1},"y":{"field":"y","type":"quantitative","title":null,"scale":{"domain":[0,24],"nice":false},"axis":{"values":[0,6,12,18,24],"labels":false}},"color":{"field":"v","type":"quantitative","scale":{"type":"threshold"}}}},{"data":{"name":"one"},"mark":{"type":"rule","color":"#ddd","strokeDash":[2,2]},"encoding":{"x":{"datum":1.34}}},{"data":{"name":"one"},"mark":"rule","encoding":{"x":{"datum":1}}},{"data":{"name":"one"},"mark":"rule","encoding":{"y":{"datum":0},"x":{"datum":0.684},"x2":{"datum":1.605}}}]},
{"data":{"values":[]},"mark":"point","width":1,"height":1}
]}]}
